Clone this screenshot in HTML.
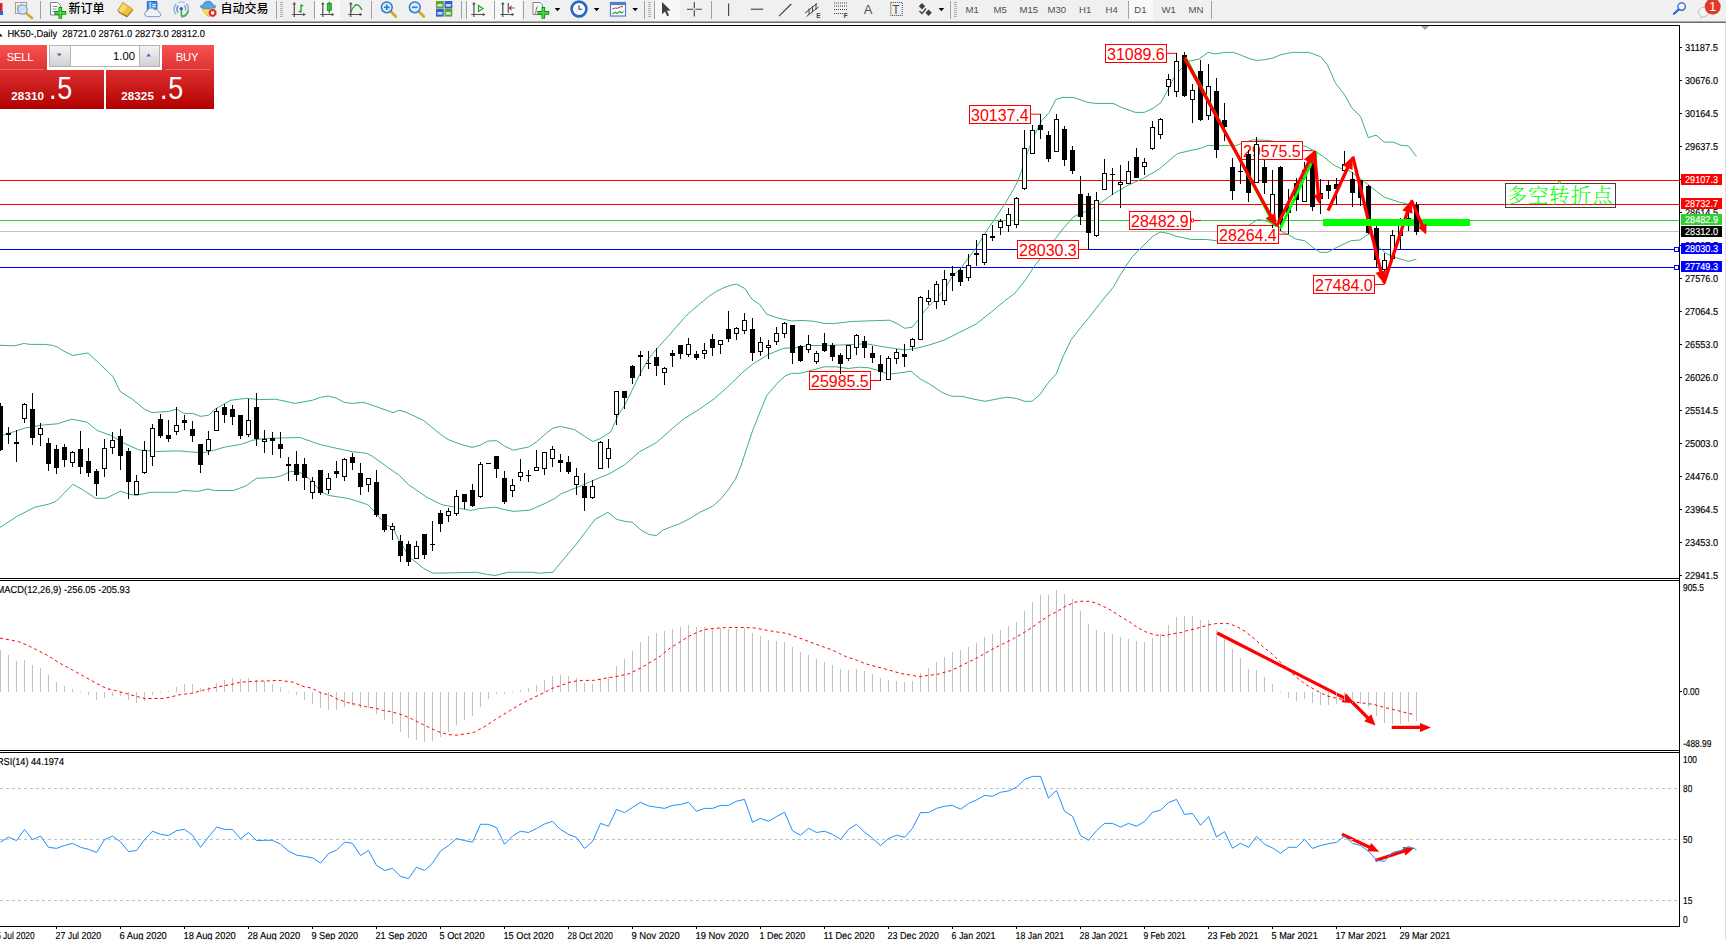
<!DOCTYPE html>
<html><head><meta charset="utf-8"><title>HK50 Daily</title>
<style>
html,body{margin:0;padding:0;background:#fff;}
body{width:1726px;height:940px;overflow:hidden;position:relative;font-family:"Liberation Sans","Noto Sans CJK SC",sans-serif;}
#tb{position:absolute;left:0;top:0;width:1726px;height:21px;background:#f0f0f0;}
#tbl1{position:absolute;left:0;top:21px;width:1726px;height:1px;background:#a8a8a8;}
#tbl2{position:absolute;left:0;top:22px;width:1726px;height:1px;background:#6e6e6e;}
#chart{position:absolute;left:0;top:0;}
.tbt{position:absolute;top:2px;font-size:12px;line-height:14px;color:#000;white-space:nowrap;font-weight:500;}
.tf{position:absolute;top:3.5px;font-size:9.6px;line-height:12px;color:#505050;white-space:nowrap;}
.sep{position:absolute;top:1px;width:1px;height:18px;background:#a0a0a0;}
.act{position:absolute;top:0;height:20px;background:#f8f8f8;}
#trade{position:absolute;left:0;top:45px;width:214px;height:64px;}
.btn{position:absolute;color:#fff;text-align:center;}
</style></head><body>
<svg id="chart" width="1726" height="940" viewBox="0 0 1726 940">
<g shape-rendering="crispEdges">
<rect x="0" y="25" width="1680" height="1" fill="#000"/>
<rect x="1679" y="25" width="1" height="902" fill="#000"/>
<rect x="0" y="578" width="1680" height="1" fill="#000"/>
<rect x="0" y="580" width="1680" height="1" fill="#000"/>
<rect x="0" y="750" width="1680" height="1" fill="#000"/>
<rect x="0" y="752" width="1680" height="1" fill="#000"/>
<rect x="0" y="926" width="1680" height="1" fill="#000"/>
<rect x="0" y="180" width="1679" height="1" fill="#ff0000"/>
<rect x="0" y="204" width="1679" height="1" fill="#ff0000"/>
<rect x="0" y="220" width="1679" height="1" fill="#32cd32"/>
<rect x="0" y="231" width="1679" height="1" fill="#c0c0c0"/>
<rect x="0" y="249" width="1679" height="1" fill="#0000ff"/>
<rect x="0" y="267" width="1679" height="1" fill="#0000ff"/>
</g>
<rect x="1725" y="23" width="1" height="917" fill="#dcdcdc"/>
<g stroke="#3cb371" stroke-width="1" stroke-linejoin="round">
<polyline points="0.0,345.3 14.7,345.8 24.3,343.4 29.4,344.4 44.7,344.4 52.3,345.3 57.4,347.0 63.8,351.1 72.8,355.5 79.1,354.3 88.1,353.0 99.6,363.8 113.0,376.6 120.0,391.3 132.8,399.6 144.3,409.1 151.9,412.6 168.5,411.4 176.8,409.1 183.8,413.4 192.8,413.4 200.4,416.4 208.7,415.2 215.1,409.1 231.0,400.2 246.3,398.3 259.1,399.6 275.7,399.2 294.8,403.4 312.7,400.2 320.3,397.4 328.0,396.0 335.7,397.9 344.6,402.4 352.3,403.4 363.7,402.4 377.8,407.2 393.1,412.7 399.5,410.2 407.1,412.7 423.7,420.6 440.0,433.9 448.0,439.5 460.1,444.1 472.0,447.4 480.0,445.3 487.7,441.1 496.6,440.6 504.3,446.0 513.2,450.2 528.5,447.0 536.2,442.1 546.4,433.2 552.8,428.1 560.4,426.4 574.5,429.6 584.7,436.4 593.0,441.5 600.0,438.7 610.5,432.2 618.5,414.7 624.3,406.0 631.9,390.6 639.6,374.7 648.5,358.7 660.0,345.1 668.9,335.5 676.6,326.6 685.5,316.4 693.2,309.4 700.9,303.0 708.5,296.6 716.2,291.5 723.8,287.7 731.5,285.1 736.6,284.1 744.9,288.6 751.9,299.1 759.6,304.3 766.6,314.1 778.7,318.3 791.5,320.9 802.1,320.5 812.8,321.1 824.3,323.4 835.7,323.4 851.1,321.5 876.6,320.6 889.4,320.2 897.0,323.4 904.7,328.3 912.3,327.2 917.4,320.9 922.6,313.4 928.9,306.2 936.6,298.5 944.3,289.6 951.9,277.0 960.9,268.1 976.2,247.7 986.4,231.1 994.0,220.2 1006.4,201.4 1016.2,184.5 1021.3,171.7 1028.9,148.7 1035.3,133.4 1041.7,120.6 1049.4,112.3 1055.7,99.6 1062.1,97.4 1073.6,97.4 1087.7,102.4 1095.3,103.4 1113.2,103.4 1120.9,107.2 1135.3,112.4 1144.3,112.4 1153.2,108.3 1160.9,102.6 1167.2,91.1 1173.6,78.3 1180.0,70.0 1188.9,61.1 1199.1,59.1 1208.1,52.4 1215.7,54.0 1224.7,52.4 1233.6,52.4 1240.0,54.7 1248.9,58.5 1256.6,60.4 1264.3,59.8 1273.2,57.9 1280.9,54.7 1292.3,52.4 1300.0,52.4 1308.9,52.4 1320.4,56.6 1327.4,64.9 1335.7,83.4 1344.7,94.9 1351.7,107.7 1360.6,116.6 1368.3,137.7 1376.0,135.1 1384.3,142.1 1393.2,142.1 1400.9,145.3 1408.5,146.0 1416.4,156.4" fill="none" />
<polyline points="1.6,435.7 25.5,427.9 42.1,425.1 57.4,423.8 71.5,419.2 86.8,422.1 97.0,430.4 111.1,435.5 122.6,442.6 139.1,450.0 150.6,450.9 155.7,451.5 178.7,450.9 201.7,452.8 208.0,451.9 224.6,447.2 241.2,444.3 252.7,440.2 264.2,438.5 284.6,437.9 299.9,437.5 310.1,441.1 320.3,444.6 335.7,448.1 352.3,451.7 366.3,453.2 372.7,456.4 386.7,466.6 399.5,475.5 408.4,484.5 426.4,497.0 441.7,504.7 449.4,506.2 463.4,509.1 471.1,510.4 480.0,508.5 495.3,507.2 504.3,509.5 513.2,511.4 529.8,510.2 545.1,503.4 554.0,498.9 560.4,494.2 569.4,490.4 584.7,484.3 600.0,477.5 608.9,474.0 624.3,465.1 639.6,451.7 656.2,442.8 672.8,428.1 684.3,418.5 699.6,409.1 714.9,398.3 727.7,386.8 744.3,370.9 753.2,363.8 768.5,354.3 783.8,348.3 799.6,347.4 807.7,345.5 824.3,345.5 838.3,345.1 851.1,344.5 866.4,343.8 876.6,345.7 889.4,347.7 904.7,350.0 914.9,348.6 928.9,345.1 944.3,340.0 959.6,332.3 976.2,324.0 991.5,311.9 1004.3,301.1 1014.5,293.6 1024.7,280.9 1034.9,265.5 1047.7,248.9 1055.3,238.7 1064.3,227.2 1073.2,217.0 1079.6,213.8 1089.8,210.0 1098.7,204.3 1112.3,194.4 1128.5,185.1 1143.8,178.1 1159.1,169.1 1168.1,161.5 1177.4,153.6 1192.8,150.0 1200.4,148.5 1208.1,145.3 1217.0,146.0 1226.0,145.3 1234.9,146.0 1241.3,143.6 1252.8,139.8 1268.1,140.4 1305.1,146.2 1315.3,151.3 1323.0,156.4 1333.2,164.7 1339.6,167.9 1349.8,171.1 1361.3,179.4 1368.9,185.1 1376.6,191.5 1384.4,197.2 1399.8,202.3 1411.3,204.9 1416.4,204.3" fill="none" />
<polyline points="0.0,527.4 16.6,516.6 34.5,507.3 48.5,504.2 56.2,501.3 72.8,484.3 81.7,489.1 95.7,498.3 106.0,498.3 120.6,491.1 128.9,494.3 136.6,495.3 150.6,492.3 177.4,492.3 182.6,490.4 197.9,491.4 208.0,489.0 214.4,490.5 233.5,490.5 246.3,485.7 256.5,478.3 274.4,477.4 282.0,475.5 291.0,471.3 299.9,472.3 310.1,479.4 320.3,490.9 328.0,495.3 348.4,498.5 360.0,502.1 367.7,504.7 374.0,511.1 381.7,520.0 387.4,525.4 393.2,528.3 398.3,539.1 406.0,551.3 411.1,558.3 423.8,568.5 432.8,573.2 453.2,572.8 476.2,572.3 487.7,574.5 495.3,575.5 508.1,572.3 532.3,572.3 538.7,573.2 552.8,572.3 564.3,558.3 575.7,544.9 595.1,519.4 607.9,512.3 616.8,519.4 624.5,521.3 632.1,522.2 641.1,530.2 648.7,534.4 656.4,535.6 662.8,530.2 671.7,526.6 679.4,523.8 689.6,518.7 699.8,512.3 712.6,506.3 721.5,498.3 729.1,488.7 735.5,479.1 740.6,467.0 747.7,445.3 752.8,430.0 766.6,395.7 778.7,381.7 785.1,376.0 791.5,373.4 800.2,373.3 812.8,370.0 824.3,366.8 835.7,366.8 848.5,368.5 858.7,367.2 868.9,367.8 876.6,370.0 884.3,372.9 891.9,373.8 902.1,372.6 911.1,371.1 920.0,378.9 928.8,383.6 942.8,392.8 951.7,396.3 961.9,396.3 973.4,399.1 984.9,401.3 996.4,399.1 1006.6,397.2 1016.8,398.5 1024.5,401.3 1032.1,401.3 1039.8,394.7 1047.4,383.8 1056.4,373.6 1062.8,357.0 1071.1,339.8 1080.6,327.7 1089.3,317.1 1100.4,302.8 1113.2,287.4 1119.6,276.0 1128.0,263.0 1132.3,256.8 1140.2,248.7 1153.0,236.0 1160.6,232.1 1168.3,233.4 1176.0,236.2 1191.3,239.5 1206.6,239.5 1216.8,240.8 1250.0,224.5 1257.7,219.6 1265.3,220.6 1271.7,223.2 1280.6,230.9 1288.3,234.7 1296.0,239.1 1304.9,240.8 1313.8,248.1 1320.2,252.3 1327.9,252.3 1334.5,248.5 1351.3,240.6 1360.2,240.0 1369.1,233.6 1378.1,246.7 1387.0,254.0 1398.5,258.5 1408.1,261.4 1416.4,259.1" fill="none" />
</g>
<rect x="809.5" y="371.5" width="61.0" height="18.0" fill="#fff" stroke="#ff0000" stroke-width="1" shape-rendering="crispEdges"/><text x="811.1" y="387.1" font-family="Liberation Sans, Arial, sans-serif" font-size="16" fill="#ff0000" textLength="57.6">25985.5</text><polyline points="870.6,380.5 880.5,380.5" fill="none" stroke="#ff0000" stroke-width="1"/>
<rect x="969.5" y="105.5" width="61.0" height="18.0" fill="#fff" stroke="#ff0000" stroke-width="1" shape-rendering="crispEdges"/><text x="971.1" y="121.1" font-family="Liberation Sans, Arial, sans-serif" font-size="16" fill="#ff0000" textLength="57.6">30137.4</text><polyline points="1030.6,114.2 1040.5,114.2" fill="none" stroke="#ff0000" stroke-width="1"/>
<rect x="1017.5" y="240.5" width="61.0" height="18.0" fill="#fff" stroke="#ff0000" stroke-width="1" shape-rendering="crispEdges"/><text x="1019.1" y="256.1" font-family="Liberation Sans, Arial, sans-serif" font-size="16" fill="#ff0000" textLength="57.6">28030.3</text><polyline points="1078.7,249.5 1088.5,249.5" fill="none" stroke="#ff0000" stroke-width="1"/>
<rect x="1105.5" y="44.5" width="61.0" height="18.0" fill="#fff" stroke="#ff0000" stroke-width="1" shape-rendering="crispEdges"/><text x="1107.1" y="60.1" font-family="Liberation Sans, Arial, sans-serif" font-size="16" fill="#ff0000" textLength="57.6">31089.6</text><polyline points="1166.6,53.3 1176.5,53.3" fill="none" stroke="#ff0000" stroke-width="1"/>
<rect x="1241.5" y="141.5" width="61.0" height="18.0" fill="#fff" stroke="#ff0000" stroke-width="1" shape-rendering="crispEdges"/><text x="1243.1" y="157.1" font-family="Liberation Sans, Arial, sans-serif" font-size="16" fill="#ff0000" textLength="57.6">29575.5</text><polyline points="1302.7,150.6 1312.5,150.6" fill="none" stroke="#ff0000" stroke-width="1"/>
<rect x="1129.5" y="211.5" width="61.0" height="18.0" fill="#fff" stroke="#ff0000" stroke-width="1" shape-rendering="crispEdges"/><text x="1131.1" y="227.1" font-family="Liberation Sans, Arial, sans-serif" font-size="16" fill="#ff0000" textLength="57.6">28482.9</text><polyline points="1193.5,220.5 1201,220.5" fill="none" stroke="#ff0000" stroke-width="1"/>
<rect x="1191.5" y="219" width="2" height="3" fill="#fff" stroke="#ff0000" stroke-width="0.8"/>
<rect x="1217.5" y="225.5" width="61.0" height="18.0" fill="#fff" stroke="#ff0000" stroke-width="1" shape-rendering="crispEdges"/><text x="1219.1" y="241.1" font-family="Liberation Sans, Arial, sans-serif" font-size="16" fill="#ff0000" textLength="57.6">28264.4</text><polyline points="1278.6,234.2 1288.5,234.2" fill="none" stroke="#ff0000" stroke-width="1"/>
<rect x="1313.5" y="275.5" width="61.0" height="18.0" fill="#fff" stroke="#ff0000" stroke-width="1" shape-rendering="crispEdges"/><text x="1315.1" y="291.1" font-family="Liberation Sans, Arial, sans-serif" font-size="16" fill="#ff0000" textLength="57.6">27484.0</text><polyline points="1374.6,284.5 1384.5,284.5" fill="none" stroke="#ff0000" stroke-width="1"/>
<g shape-rendering="crispEdges">
<rect x="0" y="403" width="1" height="48" fill="#000"/>
<rect x="-2" y="406" width="5" height="44" fill="#000"/>
<rect x="8" y="427" width="1" height="17" fill="#000"/>
<rect x="6" y="433" width="5" height="2" fill="#000"/>
<rect x="16" y="430" width="1" height="32" fill="#000"/>
<rect x="14" y="442" width="5" height="2" fill="#000"/>
<rect x="24" y="403" width="1" height="20" fill="#000"/>
<rect x="22" y="404" width="5" height="15" fill="#000"/>
<rect x="23" y="405" width="3" height="13" fill="#fff"/>
<rect x="32" y="393" width="1" height="52" fill="#000"/>
<rect x="30" y="409" width="5" height="29" fill="#000"/>
<rect x="40" y="423" width="1" height="23" fill="#000"/>
<rect x="38" y="428" width="5" height="7" fill="#000"/>
<rect x="39" y="429" width="3" height="5" fill="#fff"/>
<rect x="48" y="438" width="1" height="33" fill="#000"/>
<rect x="46" y="443" width="5" height="21" fill="#000"/>
<rect x="56" y="445" width="1" height="29" fill="#000"/>
<rect x="54" y="449" width="5" height="19" fill="#000"/>
<rect x="64" y="444" width="1" height="23" fill="#000"/>
<rect x="62" y="447" width="5" height="13" fill="#000"/>
<rect x="72" y="451" width="1" height="16" fill="#000"/>
<rect x="70" y="452" width="5" height="11" fill="#000"/>
<rect x="71" y="453" width="3" height="9" fill="#fff"/>
<rect x="80" y="431" width="1" height="43" fill="#000"/>
<rect x="78" y="449" width="5" height="18" fill="#000"/>
<rect x="88" y="448" width="1" height="29" fill="#000"/>
<rect x="86" y="461" width="5" height="12" fill="#000"/>
<rect x="96" y="469" width="1" height="27" fill="#000"/>
<rect x="94" y="471" width="5" height="13" fill="#000"/>
<rect x="104" y="439" width="1" height="38" fill="#000"/>
<rect x="102" y="448" width="5" height="21" fill="#000"/>
<rect x="103" y="449" width="3" height="19" fill="#fff"/>
<rect x="112" y="432" width="1" height="22" fill="#000"/>
<rect x="110" y="440" width="5" height="8" fill="#000"/>
<rect x="111" y="441" width="3" height="6" fill="#fff"/>
<rect x="120" y="429" width="1" height="41" fill="#000"/>
<rect x="118" y="436" width="5" height="20" fill="#000"/>
<rect x="128" y="448" width="1" height="51" fill="#000"/>
<rect x="126" y="451" width="5" height="31" fill="#000"/>
<rect x="136" y="475" width="1" height="20" fill="#000"/>
<rect x="134" y="481" width="5" height="14" fill="#000"/>
<rect x="135" y="482" width="3" height="12" fill="#fff"/>
<rect x="144" y="441" width="1" height="33" fill="#000"/>
<rect x="142" y="450" width="5" height="23" fill="#000"/>
<rect x="143" y="451" width="3" height="21" fill="#fff"/>
<rect x="152" y="424" width="1" height="42" fill="#000"/>
<rect x="150" y="428" width="5" height="29" fill="#000"/>
<rect x="151" y="429" width="3" height="27" fill="#fff"/>
<rect x="160" y="414" width="1" height="24" fill="#000"/>
<rect x="158" y="419" width="5" height="17" fill="#000"/>
<rect x="168" y="420" width="1" height="22" fill="#000"/>
<rect x="166" y="435" width="5" height="4" fill="#000"/>
<rect x="176" y="407" width="1" height="28" fill="#000"/>
<rect x="174" y="425" width="5" height="7" fill="#000"/>
<rect x="175" y="426" width="3" height="5" fill="#fff"/>
<rect x="184" y="415" width="1" height="15" fill="#000"/>
<rect x="182" y="420" width="5" height="3" fill="#000"/>
<rect x="192" y="421" width="1" height="21" fill="#000"/>
<rect x="190" y="429" width="5" height="7" fill="#000"/>
<rect x="200" y="444" width="1" height="29" fill="#000"/>
<rect x="198" y="444" width="5" height="21" fill="#000"/>
<rect x="208" y="431" width="1" height="24" fill="#000"/>
<rect x="206" y="439" width="5" height="12" fill="#000"/>
<rect x="207" y="440" width="3" height="10" fill="#fff"/>
<rect x="216" y="408" width="1" height="23" fill="#000"/>
<rect x="214" y="411" width="5" height="20" fill="#000"/>
<rect x="215" y="412" width="3" height="18" fill="#fff"/>
<rect x="224" y="404" width="1" height="19" fill="#000"/>
<rect x="222" y="407" width="5" height="8" fill="#000"/>
<rect x="232" y="405" width="1" height="20" fill="#000"/>
<rect x="230" y="409" width="5" height="8" fill="#000"/>
<rect x="240" y="415" width="1" height="24" fill="#000"/>
<rect x="238" y="415" width="5" height="21" fill="#000"/>
<rect x="248" y="399" width="1" height="38" fill="#000"/>
<rect x="246" y="420" width="5" height="15" fill="#000"/>
<rect x="247" y="421" width="3" height="13" fill="#fff"/>
<rect x="256" y="393" width="1" height="53" fill="#000"/>
<rect x="254" y="407" width="5" height="32" fill="#000"/>
<rect x="264" y="430" width="1" height="23" fill="#000"/>
<rect x="262" y="439" width="5" height="3" fill="#000"/>
<rect x="263" y="440" width="3" height="1" fill="#fff"/>
<rect x="272" y="432" width="1" height="23" fill="#000"/>
<rect x="270" y="438" width="5" height="3" fill="#000"/>
<rect x="280" y="432" width="1" height="26" fill="#000"/>
<rect x="278" y="444" width="5" height="5" fill="#000"/>
<rect x="288" y="457" width="1" height="24" fill="#000"/>
<rect x="286" y="464" width="5" height="2" fill="#000"/>
<rect x="296" y="451" width="1" height="30" fill="#000"/>
<rect x="294" y="464" width="5" height="11" fill="#000"/>
<rect x="304" y="458" width="1" height="32" fill="#000"/>
<rect x="302" y="464" width="5" height="14" fill="#000"/>
<rect x="312" y="477" width="1" height="22" fill="#000"/>
<rect x="310" y="481" width="5" height="12" fill="#000"/>
<rect x="311" y="482" width="3" height="10" fill="#fff"/>
<rect x="320" y="470" width="1" height="25" fill="#000"/>
<rect x="318" y="470" width="5" height="23" fill="#000"/>
<rect x="328" y="473" width="1" height="21" fill="#000"/>
<rect x="326" y="478" width="5" height="12" fill="#000"/>
<rect x="327" y="479" width="3" height="10" fill="#fff"/>
<rect x="336" y="461" width="1" height="17" fill="#000"/>
<rect x="334" y="471" width="5" height="3" fill="#000"/>
<rect x="344" y="458" width="1" height="23" fill="#000"/>
<rect x="342" y="459" width="5" height="18" fill="#000"/>
<rect x="343" y="460" width="3" height="16" fill="#fff"/>
<rect x="352" y="453" width="1" height="17" fill="#000"/>
<rect x="350" y="457" width="5" height="6" fill="#000"/>
<rect x="360" y="463" width="1" height="32" fill="#000"/>
<rect x="358" y="473" width="5" height="14" fill="#000"/>
<rect x="368" y="478" width="1" height="14" fill="#000"/>
<rect x="366" y="478" width="5" height="7" fill="#000"/>
<rect x="367" y="479" width="3" height="5" fill="#fff"/>
<rect x="376" y="470" width="1" height="47" fill="#000"/>
<rect x="374" y="482" width="5" height="33" fill="#000"/>
<rect x="384" y="514" width="1" height="18" fill="#000"/>
<rect x="382" y="514" width="5" height="16" fill="#000"/>
<rect x="392" y="523" width="1" height="17" fill="#000"/>
<rect x="390" y="526" width="5" height="4" fill="#000"/>
<rect x="391" y="527" width="3" height="2" fill="#fff"/>
<rect x="400" y="535" width="1" height="27" fill="#000"/>
<rect x="398" y="541" width="5" height="15" fill="#000"/>
<rect x="408" y="541" width="1" height="25" fill="#000"/>
<rect x="406" y="544" width="5" height="18" fill="#000"/>
<rect x="416" y="541" width="1" height="18" fill="#000"/>
<rect x="414" y="546" width="5" height="13" fill="#000"/>
<rect x="415" y="547" width="3" height="11" fill="#fff"/>
<rect x="424" y="534" width="1" height="25" fill="#000"/>
<rect x="422" y="534" width="5" height="21" fill="#000"/>
<rect x="432" y="521" width="1" height="30" fill="#000"/>
<rect x="430" y="544" width="5" height="1" fill="#000"/>
<rect x="440" y="510" width="1" height="22" fill="#000"/>
<rect x="438" y="513" width="5" height="11" fill="#000"/>
<rect x="448" y="508" width="1" height="14" fill="#000"/>
<rect x="446" y="511" width="5" height="5" fill="#000"/>
<rect x="447" y="512" width="3" height="3" fill="#fff"/>
<rect x="456" y="490" width="1" height="26" fill="#000"/>
<rect x="454" y="496" width="5" height="18" fill="#000"/>
<rect x="455" y="497" width="3" height="16" fill="#fff"/>
<rect x="464" y="494" width="1" height="15" fill="#000"/>
<rect x="462" y="494" width="5" height="8" fill="#000"/>
<rect x="472" y="484" width="1" height="23" fill="#000"/>
<rect x="470" y="490" width="5" height="16" fill="#000"/>
<rect x="480" y="462" width="1" height="36" fill="#000"/>
<rect x="478" y="464" width="5" height="33" fill="#000"/>
<rect x="479" y="465" width="3" height="31" fill="#fff"/>
<rect x="486" y="463" width="5" height="1" fill="#000"/>
<rect x="496" y="456" width="1" height="22" fill="#000"/>
<rect x="494" y="456" width="5" height="13" fill="#000"/>
<rect x="504" y="471" width="1" height="33" fill="#000"/>
<rect x="502" y="478" width="5" height="24" fill="#000"/>
<rect x="512" y="479" width="1" height="18" fill="#000"/>
<rect x="510" y="485" width="5" height="6" fill="#000"/>
<rect x="511" y="486" width="3" height="4" fill="#fff"/>
<rect x="520" y="459" width="1" height="22" fill="#000"/>
<rect x="518" y="472" width="5" height="5" fill="#000"/>
<rect x="519" y="473" width="3" height="3" fill="#fff"/>
<rect x="528" y="470" width="1" height="12" fill="#000"/>
<rect x="526" y="475" width="5" height="1" fill="#000"/>
<rect x="536" y="450" width="1" height="21" fill="#000"/>
<rect x="534" y="467" width="5" height="4" fill="#000"/>
<rect x="535" y="468" width="3" height="2" fill="#fff"/>
<rect x="544" y="452" width="1" height="23" fill="#000"/>
<rect x="542" y="452" width="5" height="17" fill="#000"/>
<rect x="543" y="453" width="3" height="15" fill="#fff"/>
<rect x="552" y="446" width="1" height="21" fill="#000"/>
<rect x="550" y="449" width="5" height="10" fill="#000"/>
<rect x="551" y="450" width="3" height="8" fill="#fff"/>
<rect x="560" y="454" width="1" height="18" fill="#000"/>
<rect x="558" y="460" width="5" height="3" fill="#000"/>
<rect x="568" y="456" width="1" height="18" fill="#000"/>
<rect x="566" y="462" width="5" height="10" fill="#000"/>
<rect x="576" y="468" width="1" height="27" fill="#000"/>
<rect x="574" y="476" width="5" height="9" fill="#000"/>
<rect x="575" y="477" width="3" height="7" fill="#fff"/>
<rect x="584" y="473" width="1" height="38" fill="#000"/>
<rect x="582" y="486" width="5" height="12" fill="#000"/>
<rect x="592" y="480" width="1" height="19" fill="#000"/>
<rect x="590" y="486" width="5" height="12" fill="#000"/>
<rect x="591" y="487" width="3" height="10" fill="#fff"/>
<rect x="600" y="441" width="1" height="28" fill="#000"/>
<rect x="598" y="442" width="5" height="27" fill="#000"/>
<rect x="599" y="443" width="3" height="25" fill="#fff"/>
<rect x="608" y="439" width="1" height="29" fill="#000"/>
<rect x="606" y="448" width="5" height="11" fill="#000"/>
<rect x="607" y="449" width="3" height="9" fill="#fff"/>
<rect x="616" y="391" width="1" height="34" fill="#000"/>
<rect x="614" y="391" width="5" height="24" fill="#000"/>
<rect x="615" y="392" width="3" height="22" fill="#fff"/>
<rect x="624" y="391" width="1" height="18" fill="#000"/>
<rect x="622" y="391" width="5" height="7" fill="#000"/>
<rect x="632" y="365" width="1" height="19" fill="#000"/>
<rect x="630" y="366" width="5" height="12" fill="#000"/>
<rect x="640" y="351" width="1" height="25" fill="#000"/>
<rect x="638" y="355" width="5" height="2" fill="#000"/>
<rect x="648" y="351" width="1" height="18" fill="#000"/>
<rect x="646" y="363" width="5" height="1" fill="#000"/>
<rect x="656" y="348" width="1" height="28" fill="#000"/>
<rect x="654" y="357" width="5" height="9" fill="#000"/>
<rect x="664" y="367" width="1" height="18" fill="#000"/>
<rect x="662" y="368" width="5" height="5" fill="#000"/>
<rect x="663" y="369" width="3" height="3" fill="#fff"/>
<rect x="672" y="350" width="1" height="17" fill="#000"/>
<rect x="670" y="353" width="5" height="3" fill="#000"/>
<rect x="680" y="345" width="1" height="14" fill="#000"/>
<rect x="678" y="345" width="5" height="9" fill="#000"/>
<rect x="688" y="338" width="1" height="19" fill="#000"/>
<rect x="686" y="344" width="5" height="11" fill="#000"/>
<rect x="687" y="345" width="3" height="9" fill="#fff"/>
<rect x="696" y="351" width="1" height="9" fill="#000"/>
<rect x="694" y="354" width="5" height="4" fill="#000"/>
<rect x="704" y="343" width="1" height="16" fill="#000"/>
<rect x="702" y="350" width="5" height="4" fill="#000"/>
<rect x="703" y="351" width="3" height="2" fill="#fff"/>
<rect x="712" y="334" width="1" height="22" fill="#000"/>
<rect x="710" y="339" width="5" height="9" fill="#000"/>
<rect x="720" y="340" width="1" height="14" fill="#000"/>
<rect x="718" y="340" width="5" height="5" fill="#000"/>
<rect x="719" y="341" width="3" height="3" fill="#fff"/>
<rect x="728" y="311" width="1" height="31" fill="#000"/>
<rect x="726" y="329" width="5" height="10" fill="#000"/>
<rect x="736" y="327" width="1" height="13" fill="#000"/>
<rect x="734" y="328" width="5" height="6" fill="#000"/>
<rect x="735" y="329" width="3" height="4" fill="#fff"/>
<rect x="744" y="313" width="1" height="21" fill="#000"/>
<rect x="742" y="320" width="5" height="11" fill="#000"/>
<rect x="743" y="321" width="3" height="9" fill="#fff"/>
<rect x="752" y="318" width="1" height="43" fill="#000"/>
<rect x="750" y="329" width="5" height="24" fill="#000"/>
<rect x="760" y="337" width="1" height="19" fill="#000"/>
<rect x="758" y="342" width="5" height="10" fill="#000"/>
<rect x="759" y="343" width="3" height="8" fill="#fff"/>
<rect x="768" y="340" width="1" height="19" fill="#000"/>
<rect x="766" y="345" width="5" height="3" fill="#000"/>
<rect x="767" y="346" width="3" height="1" fill="#fff"/>
<rect x="776" y="327" width="1" height="18" fill="#000"/>
<rect x="774" y="333" width="5" height="9" fill="#000"/>
<rect x="775" y="334" width="3" height="7" fill="#fff"/>
<rect x="784" y="322" width="1" height="16" fill="#000"/>
<rect x="782" y="323" width="5" height="11" fill="#000"/>
<rect x="783" y="324" width="3" height="9" fill="#fff"/>
<rect x="792" y="325" width="1" height="39" fill="#000"/>
<rect x="790" y="325" width="5" height="28" fill="#000"/>
<rect x="800" y="345" width="1" height="17" fill="#000"/>
<rect x="798" y="346" width="5" height="15" fill="#000"/>
<rect x="808" y="335" width="1" height="18" fill="#000"/>
<rect x="806" y="344" width="5" height="6" fill="#000"/>
<rect x="807" y="345" width="3" height="4" fill="#fff"/>
<rect x="816" y="351" width="1" height="13" fill="#000"/>
<rect x="814" y="353" width="5" height="9" fill="#000"/>
<rect x="815" y="354" width="3" height="7" fill="#fff"/>
<rect x="824" y="333" width="1" height="19" fill="#000"/>
<rect x="822" y="343" width="5" height="8" fill="#000"/>
<rect x="832" y="343" width="1" height="18" fill="#000"/>
<rect x="830" y="345" width="5" height="12" fill="#000"/>
<rect x="840" y="353" width="1" height="21" fill="#000"/>
<rect x="838" y="355" width="5" height="9" fill="#000"/>
<rect x="848" y="345" width="1" height="16" fill="#000"/>
<rect x="846" y="345" width="5" height="14" fill="#000"/>
<rect x="847" y="346" width="3" height="12" fill="#fff"/>
<rect x="856" y="334" width="1" height="21" fill="#000"/>
<rect x="854" y="335" width="5" height="13" fill="#000"/>
<rect x="855" y="336" width="3" height="11" fill="#fff"/>
<rect x="864" y="336" width="1" height="22" fill="#000"/>
<rect x="862" y="341" width="5" height="7" fill="#000"/>
<rect x="872" y="346" width="1" height="17" fill="#000"/>
<rect x="870" y="353" width="5" height="5" fill="#000"/>
<rect x="880" y="355" width="1" height="26" fill="#000"/>
<rect x="878" y="364" width="5" height="8" fill="#000"/>
<rect x="888" y="356" width="1" height="24" fill="#000"/>
<rect x="886" y="358" width="5" height="22" fill="#000"/>
<rect x="887" y="359" width="3" height="20" fill="#fff"/>
<rect x="896" y="349" width="1" height="15" fill="#000"/>
<rect x="894" y="352" width="5" height="7" fill="#000"/>
<rect x="895" y="353" width="3" height="5" fill="#fff"/>
<rect x="904" y="344" width="1" height="23" fill="#000"/>
<rect x="902" y="354" width="5" height="3" fill="#000"/>
<rect x="912" y="338" width="1" height="13" fill="#000"/>
<rect x="910" y="339" width="5" height="8" fill="#000"/>
<rect x="911" y="340" width="3" height="6" fill="#fff"/>
<rect x="920" y="296" width="1" height="44" fill="#000"/>
<rect x="918" y="297" width="5" height="43" fill="#000"/>
<rect x="919" y="298" width="3" height="41" fill="#fff"/>
<rect x="928" y="290" width="1" height="15" fill="#000"/>
<rect x="926" y="298" width="5" height="4" fill="#000"/>
<rect x="927" y="299" width="3" height="2" fill="#fff"/>
<rect x="936" y="281" width="1" height="28" fill="#000"/>
<rect x="934" y="284" width="5" height="18" fill="#000"/>
<rect x="935" y="285" width="3" height="16" fill="#fff"/>
<rect x="944" y="270" width="1" height="35" fill="#000"/>
<rect x="942" y="279" width="5" height="22" fill="#000"/>
<rect x="943" y="280" width="3" height="20" fill="#fff"/>
<rect x="952" y="266" width="1" height="25" fill="#000"/>
<rect x="950" y="273" width="5" height="3" fill="#000"/>
<rect x="960" y="268" width="1" height="18" fill="#000"/>
<rect x="958" y="270" width="5" height="12" fill="#000"/>
<rect x="968" y="254" width="1" height="27" fill="#000"/>
<rect x="966" y="265" width="5" height="13" fill="#000"/>
<rect x="967" y="266" width="3" height="11" fill="#fff"/>
<rect x="976" y="240" width="1" height="26" fill="#000"/>
<rect x="974" y="253" width="5" height="2" fill="#000"/>
<rect x="984" y="234" width="1" height="31" fill="#000"/>
<rect x="982" y="234" width="5" height="29" fill="#000"/>
<rect x="983" y="235" width="3" height="27" fill="#fff"/>
<rect x="992" y="225" width="1" height="16" fill="#000"/>
<rect x="990" y="236" width="5" height="2" fill="#000"/>
<rect x="1000" y="219" width="1" height="16" fill="#000"/>
<rect x="998" y="221" width="5" height="7" fill="#000"/>
<rect x="999" y="222" width="3" height="5" fill="#fff"/>
<rect x="1008" y="208" width="1" height="24" fill="#000"/>
<rect x="1006" y="214" width="5" height="12" fill="#000"/>
<rect x="1007" y="215" width="3" height="10" fill="#fff"/>
<rect x="1016" y="197" width="1" height="31" fill="#000"/>
<rect x="1014" y="198" width="5" height="27" fill="#000"/>
<rect x="1015" y="199" width="3" height="25" fill="#fff"/>
<rect x="1024" y="130" width="1" height="60" fill="#000"/>
<rect x="1022" y="148" width="5" height="41" fill="#000"/>
<rect x="1023" y="149" width="3" height="39" fill="#fff"/>
<rect x="1032" y="125" width="1" height="29" fill="#000"/>
<rect x="1030" y="130" width="5" height="24" fill="#000"/>
<rect x="1031" y="131" width="3" height="22" fill="#fff"/>
<rect x="1040" y="114" width="1" height="25" fill="#000"/>
<rect x="1038" y="125" width="5" height="5" fill="#000"/>
<rect x="1048" y="131" width="1" height="31" fill="#000"/>
<rect x="1046" y="135" width="5" height="24" fill="#000"/>
<rect x="1056" y="114" width="1" height="38" fill="#000"/>
<rect x="1054" y="119" width="5" height="33" fill="#000"/>
<rect x="1055" y="120" width="3" height="31" fill="#fff"/>
<rect x="1064" y="126" width="1" height="40" fill="#000"/>
<rect x="1062" y="129" width="5" height="31" fill="#000"/>
<rect x="1072" y="146" width="1" height="28" fill="#000"/>
<rect x="1070" y="150" width="5" height="21" fill="#000"/>
<rect x="1080" y="176" width="1" height="49" fill="#000"/>
<rect x="1078" y="194" width="5" height="23" fill="#000"/>
<rect x="1088" y="193" width="1" height="57" fill="#000"/>
<rect x="1086" y="196" width="5" height="37" fill="#000"/>
<rect x="1096" y="192" width="1" height="45" fill="#000"/>
<rect x="1094" y="200" width="5" height="36" fill="#000"/>
<rect x="1095" y="201" width="3" height="34" fill="#fff"/>
<rect x="1104" y="159" width="1" height="31" fill="#000"/>
<rect x="1102" y="173" width="5" height="17" fill="#000"/>
<rect x="1103" y="174" width="3" height="15" fill="#fff"/>
<rect x="1112" y="168" width="1" height="27" fill="#000"/>
<rect x="1110" y="174" width="5" height="1" fill="#000"/>
<rect x="1120" y="165" width="1" height="43" fill="#000"/>
<rect x="1118" y="182" width="5" height="3" fill="#000"/>
<rect x="1119" y="183" width="3" height="1" fill="#fff"/>
<rect x="1128" y="161" width="1" height="23" fill="#000"/>
<rect x="1126" y="171" width="5" height="13" fill="#000"/>
<rect x="1127" y="172" width="3" height="11" fill="#fff"/>
<rect x="1136" y="148" width="1" height="30" fill="#000"/>
<rect x="1134" y="157" width="5" height="21" fill="#000"/>
<rect x="1144" y="158" width="1" height="17" fill="#000"/>
<rect x="1142" y="162" width="5" height="5" fill="#000"/>
<rect x="1143" y="163" width="3" height="3" fill="#fff"/>
<rect x="1152" y="121" width="1" height="29" fill="#000"/>
<rect x="1150" y="127" width="5" height="22" fill="#000"/>
<rect x="1151" y="128" width="3" height="20" fill="#fff"/>
<rect x="1160" y="118" width="1" height="21" fill="#000"/>
<rect x="1158" y="119" width="5" height="16" fill="#000"/>
<rect x="1159" y="120" width="3" height="14" fill="#fff"/>
<rect x="1168" y="74" width="1" height="22" fill="#000"/>
<rect x="1166" y="79" width="5" height="8" fill="#000"/>
<rect x="1167" y="80" width="3" height="6" fill="#fff"/>
<rect x="1176" y="53" width="1" height="44" fill="#000"/>
<rect x="1174" y="61" width="5" height="31" fill="#000"/>
<rect x="1175" y="62" width="3" height="29" fill="#fff"/>
<rect x="1184" y="52" width="1" height="45" fill="#000"/>
<rect x="1182" y="55" width="5" height="41" fill="#000"/>
<rect x="1192" y="84" width="1" height="39" fill="#000"/>
<rect x="1190" y="90" width="5" height="10" fill="#000"/>
<rect x="1191" y="91" width="3" height="8" fill="#fff"/>
<rect x="1200" y="60" width="1" height="61" fill="#000"/>
<rect x="1198" y="71" width="5" height="49" fill="#000"/>
<rect x="1208" y="64" width="1" height="56" fill="#000"/>
<rect x="1206" y="86" width="5" height="30" fill="#000"/>
<rect x="1207" y="87" width="3" height="28" fill="#fff"/>
<rect x="1216" y="78" width="1" height="80" fill="#000"/>
<rect x="1214" y="91" width="5" height="59" fill="#000"/>
<rect x="1224" y="103" width="1" height="38" fill="#000"/>
<rect x="1222" y="120" width="5" height="7" fill="#000"/>
<rect x="1232" y="158" width="1" height="42" fill="#000"/>
<rect x="1230" y="167" width="5" height="24" fill="#000"/>
<rect x="1240" y="163" width="1" height="21" fill="#000"/>
<rect x="1238" y="171" width="5" height="1" fill="#000"/>
<rect x="1248" y="150" width="1" height="52" fill="#000"/>
<rect x="1246" y="154" width="5" height="39" fill="#000"/>
<rect x="1256" y="137" width="1" height="46" fill="#000"/>
<rect x="1254" y="144" width="5" height="39" fill="#000"/>
<rect x="1255" y="145" width="3" height="37" fill="#fff"/>
<rect x="1264" y="160" width="1" height="34" fill="#000"/>
<rect x="1262" y="167" width="5" height="16" fill="#000"/>
<rect x="1272" y="170" width="1" height="58" fill="#000"/>
<rect x="1270" y="194" width="5" height="28" fill="#000"/>
<rect x="1271" y="195" width="3" height="26" fill="#fff"/>
<rect x="1280" y="166" width="1" height="65" fill="#000"/>
<rect x="1278" y="167" width="5" height="56" fill="#000"/>
<rect x="1288" y="189" width="1" height="45" fill="#000"/>
<rect x="1286" y="207" width="5" height="6" fill="#000"/>
<rect x="1296" y="178" width="1" height="33" fill="#000"/>
<rect x="1294" y="183" width="5" height="17" fill="#000"/>
<rect x="1304" y="162" width="1" height="40" fill="#000"/>
<rect x="1302" y="170" width="5" height="32" fill="#000"/>
<rect x="1303" y="171" width="3" height="30" fill="#fff"/>
<rect x="1312" y="153" width="1" height="58" fill="#000"/>
<rect x="1310" y="157" width="5" height="50" fill="#000"/>
<rect x="1320" y="179" width="1" height="35" fill="#000"/>
<rect x="1318" y="193" width="5" height="6" fill="#000"/>
<rect x="1328" y="180" width="1" height="19" fill="#000"/>
<rect x="1326" y="185" width="5" height="6" fill="#000"/>
<rect x="1336" y="178" width="1" height="27" fill="#000"/>
<rect x="1334" y="184" width="5" height="5" fill="#000"/>
<rect x="1344" y="151" width="1" height="20" fill="#000"/>
<rect x="1342" y="164" width="5" height="7" fill="#000"/>
<rect x="1343" y="165" width="3" height="5" fill="#fff"/>
<rect x="1352" y="172" width="1" height="35" fill="#000"/>
<rect x="1350" y="179" width="5" height="14" fill="#000"/>
<rect x="1360" y="180" width="1" height="26" fill="#000"/>
<rect x="1358" y="180" width="5" height="18" fill="#000"/>
<rect x="1368" y="185" width="1" height="49" fill="#000"/>
<rect x="1366" y="186" width="5" height="47" fill="#000"/>
<rect x="1376" y="226" width="1" height="42" fill="#000"/>
<rect x="1374" y="228" width="5" height="32" fill="#000"/>
<rect x="1384" y="253" width="1" height="31" fill="#000"/>
<rect x="1382" y="260" width="5" height="10" fill="#000"/>
<rect x="1383" y="261" width="3" height="8" fill="#fff"/>
<rect x="1392" y="230" width="1" height="29" fill="#000"/>
<rect x="1390" y="235" width="5" height="24" fill="#000"/>
<rect x="1391" y="236" width="3" height="22" fill="#fff"/>
<rect x="1400" y="218" width="1" height="32" fill="#000"/>
<rect x="1398" y="222" width="5" height="14" fill="#000"/>
<rect x="1399" y="223" width="3" height="12" fill="#fff"/>
<rect x="1408" y="208" width="1" height="23" fill="#000"/>
<rect x="1406" y="218" width="5" height="1" fill="#000"/>
<rect x="1416" y="202" width="1" height="33" fill="#000"/>
<rect x="1414" y="205" width="5" height="27" fill="#000"/>
</g>
<line x1="1185.4" y1="57.3" x2="1272.5" y2="221.0" stroke="#00ff00" stroke-width="2.8" stroke-linecap="butt"/><polygon points="1276.0,227.6 1265.4,219.1 1274.9,214.0" fill="#00ff00"/>
<line x1="1280.2" y1="228.6" x2="1314.2" y2="157.2" stroke="#00ff00" stroke-width="2.8" stroke-linecap="butt"/><polygon points="1317.4,150.4 1316.9,164.0 1307.2,159.4" fill="#00ff00"/>
<line x1="1184.5" y1="57.9" x2="1273.0" y2="219.9" stroke="#ff0000" stroke-width="3.3" stroke-linecap="butt"/><polygon points="1276.6,226.5 1265.9,218.1 1275.3,212.9" fill="#ff0000"/>
<line x1="1276.6" y1="226.5" x2="1311.0" y2="157.5" stroke="#ff0000" stroke-width="3.3" stroke-linecap="butt"/><polygon points="1314.3,150.8 1313.6,164.4 1303.9,159.6" fill="#ff0000"/>
<line x1="1314.3" y1="150.8" x2="1318.7" y2="198.3" stroke="#ff0000" stroke-width="3.3" stroke-linecap="butt"/><polygon points="1319.3,204.3 1313.6,194.8 1323.1,193.9" fill="#ff0000"/>
<line x1="1328.1" y1="210.6" x2="1349.7" y2="163.3" stroke="#ff0000" stroke-width="3.3" stroke-linecap="butt"/><polygon points="1352.8,156.5 1352.5,170.1 1342.7,165.6" fill="#ff0000"/>
<line x1="1352.8" y1="156.5" x2="1382.0" y2="276.3" stroke="#ff0000" stroke-width="3.3" stroke-linecap="butt"/><polygon points="1383.8,283.6 1375.6,272.7 1386.1,270.2" fill="#ff0000"/>
<line x1="1383.8" y1="283.6" x2="1409.0" y2="207.3" stroke="#ff0000" stroke-width="3.3" stroke-linecap="butt"/><polygon points="1411.3,200.2 1412.5,213.8 1402.3,210.4" fill="#ff0000"/>
<rect x="1323" y="219" width="147" height="7" fill="#00ff00"/>
<g shape-rendering="crispEdges"><rect x="1416" y="202" width="1" height="33" fill="#000"/><rect x="1414" y="205" width="5" height="27" fill="#000"/></g>
<line x1="1411.3" y1="200.2" x2="1423.8" y2="229.0" stroke="#ff0000" stroke-width="3.3" stroke-linecap="butt"/><polygon points="1426.2,234.5 1417.8,227.2 1426.6,223.4" fill="#ff0000"/>
<line x1="1217.2" y1="633.0" x2="1348.1" y2="699.9" stroke="#ff0000" stroke-width="3.3" stroke-linecap="butt"/><polygon points="1354.5,703.2 1341.5,702.2 1346.1,693.3" fill="#ff0000"/>
<line x1="1352.0" y1="702.0" x2="1370.8" y2="720.8" stroke="#ff0000" stroke-width="3.3" stroke-linecap="butt"/><polygon points="1375.5,725.5 1364.2,721.3 1371.3,714.2" fill="#ff0000"/>
<line x1="1391.7" y1="727.4" x2="1424.4" y2="727.4" stroke="#ff0000" stroke-width="3.3" stroke-linecap="butt"/><polygon points="1431.0,727.4 1420.0,731.9 1420.0,722.9" fill="#ff0000"/>
<line x1="1342.0" y1="834.3" x2="1373.2" y2="849.0" stroke="#ff0000" stroke-width="3.3" stroke-linecap="butt"/><polygon points="1379.2,851.8 1367.3,851.2 1371.2,843.0" fill="#ff0000"/>
<line x1="1375.4" y1="860.5" x2="1408.2" y2="849.8" stroke="#ff0000" stroke-width="3.3" stroke-linecap="butt"/><polygon points="1414.5,847.8 1405.4,855.5 1402.6,846.9" fill="#ff0000"/>
<rect x="1505.5" y="183.5" width="110" height="24" fill="none" stroke="#404040" stroke-width="1" shape-rendering="crispEdges"/>
<rect x="1558.5" y="181.5" width="2" height="2" fill="none" stroke="#00e000" stroke-width="0.7"/>
<text x="1506.6" y="202.5" font-family="Liberation Serif, Noto Serif CJK SC, serif" font-weight="300" font-size="20.5" fill="#00ff00" textLength="106" lengthAdjust="spacing">多空转折点</text>
<g shape-rendering="crispEdges">
<rect x="1680" y="47" width="2" height="1" fill="#000"/>
<rect x="1680" y="80" width="2" height="1" fill="#000"/>
<rect x="1680" y="113" width="2" height="1" fill="#000"/>
<rect x="1680" y="146" width="2" height="1" fill="#000"/>
<rect x="1680" y="179" width="2" height="1" fill="#000"/>
<rect x="1680" y="212" width="2" height="1" fill="#000"/>
<rect x="1680" y="245" width="2" height="1" fill="#000"/>
<rect x="1680" y="278" width="2" height="1" fill="#000"/>
<rect x="1680" y="311" width="2" height="1" fill="#000"/>
<rect x="1680" y="344" width="2" height="1" fill="#000"/>
<rect x="1680" y="377" width="2" height="1" fill="#000"/>
<rect x="1680" y="410" width="2" height="1" fill="#000"/>
<rect x="1680" y="443" width="2" height="1" fill="#000"/>
<rect x="1680" y="476" width="2" height="1" fill="#000"/>
<rect x="1680" y="509" width="2" height="1" fill="#000"/>
<rect x="1680" y="542" width="2" height="1" fill="#000"/>
<rect x="1680" y="575" width="2" height="1" fill="#000"/>
</g>
<text x="1685" y="51.1" font-family="Liberation Sans, Arial, sans-serif" font-size="10.1" style="text-rendering:geometricPrecision" stroke="#000" stroke-width="0.15" lengthAdjust="spacingAndGlyphs" fill="#000" textLength="33">31187.5</text>
<text x="1685" y="84.0" font-family="Liberation Sans, Arial, sans-serif" font-size="10.1" style="text-rendering:geometricPrecision" stroke="#000" stroke-width="0.15" lengthAdjust="spacingAndGlyphs" fill="#000" textLength="33">30676.0</text>
<text x="1685" y="117.0" font-family="Liberation Sans, Arial, sans-serif" font-size="10.1" style="text-rendering:geometricPrecision" stroke="#000" stroke-width="0.15" lengthAdjust="spacingAndGlyphs" fill="#000" textLength="33">30164.5</text>
<text x="1685" y="150.0" font-family="Liberation Sans, Arial, sans-serif" font-size="10.1" style="text-rendering:geometricPrecision" stroke="#000" stroke-width="0.15" lengthAdjust="spacingAndGlyphs" fill="#000" textLength="33">29637.5</text>
<text x="1685" y="183.0" font-family="Liberation Sans, Arial, sans-serif" font-size="10.1" style="text-rendering:geometricPrecision" stroke="#000" stroke-width="0.15" lengthAdjust="spacingAndGlyphs" fill="#000" textLength="33">29126.0</text>
<text x="1685" y="215.9" font-family="Liberation Sans, Arial, sans-serif" font-size="10.1" style="text-rendering:geometricPrecision" stroke="#000" stroke-width="0.15" lengthAdjust="spacingAndGlyphs" fill="#000" textLength="33">28614.5</text>
<text x="1685" y="248.9" font-family="Liberation Sans, Arial, sans-serif" font-size="10.1" style="text-rendering:geometricPrecision" stroke="#000" stroke-width="0.15" lengthAdjust="spacingAndGlyphs" fill="#000" textLength="33">28087.5</text>
<text x="1685" y="281.9" font-family="Liberation Sans, Arial, sans-serif" font-size="10.1" style="text-rendering:geometricPrecision" stroke="#000" stroke-width="0.15" lengthAdjust="spacingAndGlyphs" fill="#000" textLength="33">27576.0</text>
<text x="1685" y="314.9" font-family="Liberation Sans, Arial, sans-serif" font-size="10.1" style="text-rendering:geometricPrecision" stroke="#000" stroke-width="0.15" lengthAdjust="spacingAndGlyphs" fill="#000" textLength="33">27064.5</text>
<text x="1685" y="347.8" font-family="Liberation Sans, Arial, sans-serif" font-size="10.1" style="text-rendering:geometricPrecision" stroke="#000" stroke-width="0.15" lengthAdjust="spacingAndGlyphs" fill="#000" textLength="33">26553.0</text>
<text x="1685" y="380.8" font-family="Liberation Sans, Arial, sans-serif" font-size="10.1" style="text-rendering:geometricPrecision" stroke="#000" stroke-width="0.15" lengthAdjust="spacingAndGlyphs" fill="#000" textLength="33">26026.0</text>
<text x="1685" y="413.8" font-family="Liberation Sans, Arial, sans-serif" font-size="10.1" style="text-rendering:geometricPrecision" stroke="#000" stroke-width="0.15" lengthAdjust="spacingAndGlyphs" fill="#000" textLength="33">25514.5</text>
<text x="1685" y="446.8" font-family="Liberation Sans, Arial, sans-serif" font-size="10.1" style="text-rendering:geometricPrecision" stroke="#000" stroke-width="0.15" lengthAdjust="spacingAndGlyphs" fill="#000" textLength="33">25003.0</text>
<text x="1685" y="479.7" font-family="Liberation Sans, Arial, sans-serif" font-size="10.1" style="text-rendering:geometricPrecision" stroke="#000" stroke-width="0.15" lengthAdjust="spacingAndGlyphs" fill="#000" textLength="33">24476.0</text>
<text x="1685" y="512.7" font-family="Liberation Sans, Arial, sans-serif" font-size="10.1" style="text-rendering:geometricPrecision" stroke="#000" stroke-width="0.15" lengthAdjust="spacingAndGlyphs" fill="#000" textLength="33">23964.5</text>
<text x="1685" y="545.7" font-family="Liberation Sans, Arial, sans-serif" font-size="10.1" style="text-rendering:geometricPrecision" stroke="#000" stroke-width="0.15" lengthAdjust="spacingAndGlyphs" fill="#000" textLength="33">23453.0</text>
<text x="1685" y="578.7" font-family="Liberation Sans, Arial, sans-serif" font-size="10.1" style="text-rendering:geometricPrecision" stroke="#000" stroke-width="0.15" lengthAdjust="spacingAndGlyphs" fill="#000" textLength="33">22941.5</text>
<rect x="1681" y="174" width="41" height="11" fill="#ff0000"/><text x="1685" y="183.2" font-family="Liberation Sans, Arial, sans-serif" font-size="10.1" style="text-rendering:geometricPrecision" stroke="#fff" stroke-width="0.15" lengthAdjust="spacingAndGlyphs" fill="#fff" textLength="33">29107.3</text>
<rect x="1681" y="198" width="41" height="11" fill="#ff0000"/><text x="1685" y="207.2" font-family="Liberation Sans, Arial, sans-serif" font-size="10.1" style="text-rendering:geometricPrecision" stroke="#fff" stroke-width="0.15" lengthAdjust="spacingAndGlyphs" fill="#fff" textLength="33">28732.7</text>
<rect x="1681" y="214" width="41" height="11" fill="#32cd32"/><text x="1685" y="223.2" font-family="Liberation Sans, Arial, sans-serif" font-size="10.1" style="text-rendering:geometricPrecision" stroke="#fff" stroke-width="0.15" lengthAdjust="spacingAndGlyphs" fill="#fff" textLength="33">28482.9</text>
<rect x="1681" y="226" width="41" height="11" fill="#000000"/><text x="1685" y="235.4" font-family="Liberation Sans, Arial, sans-serif" font-size="10.1" style="text-rendering:geometricPrecision" stroke="#fff" stroke-width="0.15" lengthAdjust="spacingAndGlyphs" fill="#fff" textLength="33">28312.0</text>
<rect x="1681" y="243" width="41" height="11" fill="#0000ff"/><text x="1685" y="252.3" font-family="Liberation Sans, Arial, sans-serif" font-size="10.1" style="text-rendering:geometricPrecision" stroke="#fff" stroke-width="0.15" lengthAdjust="spacingAndGlyphs" fill="#fff" textLength="33">28030.3</text>
<rect x="1681" y="261" width="41" height="11" fill="#0000ff"/><text x="1685" y="270.1" font-family="Liberation Sans, Arial, sans-serif" font-size="10.1" style="text-rendering:geometricPrecision" stroke="#fff" stroke-width="0.15" lengthAdjust="spacingAndGlyphs" fill="#fff" textLength="33">27749.3</text>
<rect x="1674.5" y="247.5" width="4" height="4" fill="#fff" stroke="#0000ff" stroke-width="1"/>
<rect x="1674.5" y="265.5" width="4" height="4" fill="#fff" stroke="#0000ff" stroke-width="1"/>
<polygon points="1421,26 1429,26 1425,30" fill="#a0a0a0"/>
<g shape-rendering="crispEdges">
<rect x="0" y="650" width="1" height="42" fill="#c0c0c0"/>
<rect x="8" y="655" width="1" height="37" fill="#c0c0c0"/>
<rect x="16" y="661" width="1" height="31" fill="#c0c0c0"/>
<rect x="24" y="660" width="1" height="32" fill="#c0c0c0"/>
<rect x="32" y="665" width="1" height="27" fill="#c0c0c0"/>
<rect x="40" y="668" width="1" height="24" fill="#c0c0c0"/>
<rect x="48" y="675" width="1" height="17" fill="#c0c0c0"/>
<rect x="56" y="682" width="1" height="10" fill="#c0c0c0"/>
<rect x="64" y="686" width="1" height="6" fill="#c0c0c0"/>
<rect x="72" y="689" width="1" height="3" fill="#c0c0c0"/>
<rect x="80" y="691" width="1" height="1" fill="#c0c0c0"/>
<rect x="88" y="692" width="1" height="3" fill="#c0c0c0"/>
<rect x="96" y="692" width="1" height="8" fill="#c0c0c0"/>
<rect x="104" y="692" width="1" height="6" fill="#c0c0c0"/>
<rect x="112" y="692" width="1" height="4" fill="#c0c0c0"/>
<rect x="120" y="692" width="1" height="4" fill="#c0c0c0"/>
<rect x="128" y="692" width="1" height="8" fill="#c0c0c0"/>
<rect x="136" y="692" width="1" height="11" fill="#c0c0c0"/>
<rect x="144" y="692" width="1" height="9" fill="#c0c0c0"/>
<rect x="152" y="692" width="1" height="3" fill="#c0c0c0"/>
<rect x="160" y="692" width="1" height="1" fill="#c0c0c0"/>
<rect x="168" y="691" width="1" height="1" fill="#c0c0c0"/>
<rect x="176" y="687" width="1" height="5" fill="#c0c0c0"/>
<rect x="184" y="684" width="1" height="8" fill="#c0c0c0"/>
<rect x="192" y="684" width="1" height="8" fill="#c0c0c0"/>
<rect x="200" y="688" width="1" height="4" fill="#c0c0c0"/>
<rect x="208" y="687" width="1" height="5" fill="#c0c0c0"/>
<rect x="216" y="683" width="1" height="9" fill="#c0c0c0"/>
<rect x="224" y="680" width="1" height="12" fill="#c0c0c0"/>
<rect x="232" y="678" width="1" height="14" fill="#c0c0c0"/>
<rect x="240" y="679" width="1" height="13" fill="#c0c0c0"/>
<rect x="248" y="678" width="1" height="14" fill="#c0c0c0"/>
<rect x="256" y="680" width="1" height="12" fill="#c0c0c0"/>
<rect x="264" y="681" width="1" height="11" fill="#c0c0c0"/>
<rect x="272" y="684" width="1" height="8" fill="#c0c0c0"/>
<rect x="280" y="687" width="1" height="5" fill="#c0c0c0"/>
<rect x="288" y="691" width="1" height="1" fill="#c0c0c0"/>
<rect x="296" y="692" width="1" height="3" fill="#c0c0c0"/>
<rect x="304" y="692" width="1" height="8" fill="#c0c0c0"/>
<rect x="312" y="692" width="1" height="12" fill="#c0c0c0"/>
<rect x="320" y="692" width="1" height="16" fill="#c0c0c0"/>
<rect x="328" y="692" width="1" height="18" fill="#c0c0c0"/>
<rect x="336" y="692" width="1" height="18" fill="#c0c0c0"/>
<rect x="344" y="692" width="1" height="15" fill="#c0c0c0"/>
<rect x="352" y="692" width="1" height="14" fill="#c0c0c0"/>
<rect x="360" y="692" width="1" height="16" fill="#c0c0c0"/>
<rect x="368" y="692" width="1" height="16" fill="#c0c0c0"/>
<rect x="376" y="692" width="1" height="22" fill="#c0c0c0"/>
<rect x="384" y="692" width="1" height="28" fill="#c0c0c0"/>
<rect x="392" y="692" width="1" height="32" fill="#c0c0c0"/>
<rect x="400" y="692" width="1" height="40" fill="#c0c0c0"/>
<rect x="408" y="692" width="1" height="46" fill="#c0c0c0"/>
<rect x="416" y="692" width="1" height="48" fill="#c0c0c0"/>
<rect x="424" y="692" width="1" height="50" fill="#c0c0c0"/>
<rect x="432" y="692" width="1" height="49" fill="#c0c0c0"/>
<rect x="440" y="692" width="1" height="45" fill="#c0c0c0"/>
<rect x="448" y="692" width="1" height="40" fill="#c0c0c0"/>
<rect x="456" y="692" width="1" height="33" fill="#c0c0c0"/>
<rect x="464" y="692" width="1" height="28" fill="#c0c0c0"/>
<rect x="472" y="692" width="1" height="24" fill="#c0c0c0"/>
<rect x="480" y="692" width="1" height="15" fill="#c0c0c0"/>
<rect x="488" y="692" width="1" height="7" fill="#c0c0c0"/>
<rect x="496" y="692" width="1" height="2" fill="#c0c0c0"/>
<rect x="504" y="692" width="1" height="2" fill="#c0c0c0"/>
<rect x="512" y="692" width="1" height="1" fill="#c0c0c0"/>
<rect x="520" y="690" width="1" height="2" fill="#c0c0c0"/>
<rect x="528" y="688" width="1" height="4" fill="#c0c0c0"/>
<rect x="536" y="685" width="1" height="7" fill="#c0c0c0"/>
<rect x="544" y="680" width="1" height="12" fill="#c0c0c0"/>
<rect x="552" y="676" width="1" height="16" fill="#c0c0c0"/>
<rect x="560" y="675" width="1" height="17" fill="#c0c0c0"/>
<rect x="568" y="676" width="1" height="16" fill="#c0c0c0"/>
<rect x="576" y="678" width="1" height="14" fill="#c0c0c0"/>
<rect x="584" y="683" width="1" height="9" fill="#c0c0c0"/>
<rect x="592" y="684" width="1" height="8" fill="#c0c0c0"/>
<rect x="600" y="679" width="1" height="13" fill="#c0c0c0"/>
<rect x="608" y="677" width="1" height="15" fill="#c0c0c0"/>
<rect x="616" y="666" width="1" height="26" fill="#c0c0c0"/>
<rect x="624" y="659" width="1" height="33" fill="#c0c0c0"/>
<rect x="632" y="651" width="1" height="41" fill="#c0c0c0"/>
<rect x="640" y="642" width="1" height="50" fill="#c0c0c0"/>
<rect x="648" y="636" width="1" height="56" fill="#c0c0c0"/>
<rect x="656" y="633" width="1" height="59" fill="#c0c0c0"/>
<rect x="664" y="631" width="1" height="61" fill="#c0c0c0"/>
<rect x="672" y="629" width="1" height="63" fill="#c0c0c0"/>
<rect x="680" y="627" width="1" height="65" fill="#c0c0c0"/>
<rect x="688" y="625" width="1" height="67" fill="#c0c0c0"/>
<rect x="696" y="627" width="1" height="65" fill="#c0c0c0"/>
<rect x="704" y="627" width="1" height="65" fill="#c0c0c0"/>
<rect x="712" y="629" width="1" height="63" fill="#c0c0c0"/>
<rect x="720" y="628" width="1" height="64" fill="#c0c0c0"/>
<rect x="728" y="629" width="1" height="63" fill="#c0c0c0"/>
<rect x="736" y="629" width="1" height="63" fill="#c0c0c0"/>
<rect x="744" y="628" width="1" height="64" fill="#c0c0c0"/>
<rect x="752" y="633" width="1" height="59" fill="#c0c0c0"/>
<rect x="760" y="636" width="1" height="56" fill="#c0c0c0"/>
<rect x="768" y="640" width="1" height="52" fill="#c0c0c0"/>
<rect x="776" y="641" width="1" height="51" fill="#c0c0c0"/>
<rect x="784" y="642" width="1" height="50" fill="#c0c0c0"/>
<rect x="792" y="647" width="1" height="45" fill="#c0c0c0"/>
<rect x="800" y="652" width="1" height="40" fill="#c0c0c0"/>
<rect x="808" y="655" width="1" height="37" fill="#c0c0c0"/>
<rect x="816" y="659" width="1" height="33" fill="#c0c0c0"/>
<rect x="824" y="662" width="1" height="30" fill="#c0c0c0"/>
<rect x="832" y="665" width="1" height="27" fill="#c0c0c0"/>
<rect x="840" y="669" width="1" height="23" fill="#c0c0c0"/>
<rect x="848" y="670" width="1" height="22" fill="#c0c0c0"/>
<rect x="856" y="669" width="1" height="23" fill="#c0c0c0"/>
<rect x="864" y="671" width="1" height="21" fill="#c0c0c0"/>
<rect x="872" y="674" width="1" height="18" fill="#c0c0c0"/>
<rect x="880" y="678" width="1" height="14" fill="#c0c0c0"/>
<rect x="888" y="680" width="1" height="12" fill="#c0c0c0"/>
<rect x="896" y="681" width="1" height="11" fill="#c0c0c0"/>
<rect x="904" y="682" width="1" height="10" fill="#c0c0c0"/>
<rect x="912" y="681" width="1" height="11" fill="#c0c0c0"/>
<rect x="920" y="673" width="1" height="19" fill="#c0c0c0"/>
<rect x="928" y="668" width="1" height="24" fill="#c0c0c0"/>
<rect x="936" y="662" width="1" height="30" fill="#c0c0c0"/>
<rect x="944" y="657" width="1" height="35" fill="#c0c0c0"/>
<rect x="952" y="652" width="1" height="40" fill="#c0c0c0"/>
<rect x="960" y="650" width="1" height="42" fill="#c0c0c0"/>
<rect x="968" y="647" width="1" height="45" fill="#c0c0c0"/>
<rect x="976" y="643" width="1" height="49" fill="#c0c0c0"/>
<rect x="984" y="637" width="1" height="55" fill="#c0c0c0"/>
<rect x="992" y="634" width="1" height="58" fill="#c0c0c0"/>
<rect x="1000" y="630" width="1" height="62" fill="#c0c0c0"/>
<rect x="1008" y="626" width="1" height="66" fill="#c0c0c0"/>
<rect x="1016" y="622" width="1" height="70" fill="#c0c0c0"/>
<rect x="1024" y="611" width="1" height="81" fill="#c0c0c0"/>
<rect x="1032" y="602" width="1" height="90" fill="#c0c0c0"/>
<rect x="1040" y="595" width="1" height="97" fill="#c0c0c0"/>
<rect x="1048" y="595" width="1" height="97" fill="#c0c0c0"/>
<rect x="1056" y="590" width="1" height="102" fill="#c0c0c0"/>
<rect x="1064" y="594" width="1" height="98" fill="#c0c0c0"/>
<rect x="1072" y="599" width="1" height="93" fill="#c0c0c0"/>
<rect x="1080" y="611" width="1" height="81" fill="#c0c0c0"/>
<rect x="1088" y="624" width="1" height="68" fill="#c0c0c0"/>
<rect x="1096" y="630" width="1" height="62" fill="#c0c0c0"/>
<rect x="1104" y="632" width="1" height="60" fill="#c0c0c0"/>
<rect x="1112" y="634" width="1" height="58" fill="#c0c0c0"/>
<rect x="1120" y="637" width="1" height="55" fill="#c0c0c0"/>
<rect x="1128" y="639" width="1" height="53" fill="#c0c0c0"/>
<rect x="1136" y="641" width="1" height="51" fill="#c0c0c0"/>
<rect x="1144" y="642" width="1" height="50" fill="#c0c0c0"/>
<rect x="1152" y="638" width="1" height="54" fill="#c0c0c0"/>
<rect x="1160" y="634" width="1" height="58" fill="#c0c0c0"/>
<rect x="1168" y="625" width="1" height="67" fill="#c0c0c0"/>
<rect x="1176" y="617" width="1" height="75" fill="#c0c0c0"/>
<rect x="1184" y="616" width="1" height="76" fill="#c0c0c0"/>
<rect x="1192" y="616" width="1" height="76" fill="#c0c0c0"/>
<rect x="1200" y="620" width="1" height="72" fill="#c0c0c0"/>
<rect x="1208" y="620" width="1" height="72" fill="#c0c0c0"/>
<rect x="1216" y="630" width="1" height="62" fill="#c0c0c0"/>
<rect x="1224" y="639" width="1" height="53" fill="#c0c0c0"/>
<rect x="1232" y="649" width="1" height="43" fill="#c0c0c0"/>
<rect x="1240" y="658" width="1" height="34" fill="#c0c0c0"/>
<rect x="1248" y="669" width="1" height="23" fill="#c0c0c0"/>
<rect x="1256" y="670" width="1" height="22" fill="#c0c0c0"/>
<rect x="1264" y="677" width="1" height="15" fill="#c0c0c0"/>
<rect x="1272" y="684" width="1" height="8" fill="#c0c0c0"/>
<rect x="1280" y="692" width="1" height="1" fill="#c0c0c0"/>
<rect x="1288" y="692" width="1" height="6" fill="#c0c0c0"/>
<rect x="1296" y="692" width="1" height="9" fill="#c0c0c0"/>
<rect x="1304" y="692" width="1" height="7" fill="#c0c0c0"/>
<rect x="1312" y="692" width="1" height="11" fill="#c0c0c0"/>
<rect x="1320" y="692" width="1" height="13" fill="#c0c0c0"/>
<rect x="1328" y="692" width="1" height="13" fill="#c0c0c0"/>
<rect x="1336" y="692" width="1" height="12" fill="#c0c0c0"/>
<rect x="1344" y="692" width="1" height="9" fill="#c0c0c0"/>
<rect x="1352" y="692" width="1" height="11" fill="#c0c0c0"/>
<rect x="1360" y="692" width="1" height="12" fill="#c0c0c0"/>
<rect x="1368" y="692" width="1" height="15" fill="#c0c0c0"/>
<rect x="1376" y="692" width="1" height="24" fill="#c0c0c0"/>
<rect x="1384" y="692" width="1" height="31" fill="#c0c0c0"/>
<rect x="1392" y="692" width="1" height="32" fill="#c0c0c0"/>
<rect x="1400" y="692" width="1" height="32" fill="#c0c0c0"/>
<rect x="1408" y="692" width="1" height="30" fill="#c0c0c0"/>
<rect x="1416" y="692" width="1" height="29" fill="#c0c0c0"/>
</g>
<polyline points="0.0,638.2 9.0,639.7 18.1,641.5 27.1,645.1 36.2,649.6 47.0,655.1 59.7,663.2 72.3,669.9 83.2,675.9 95.9,683.1 106.7,688.5 115.8,690.7 126.6,693.6 137.5,696.7 144.7,698.5 162.8,698.5 171.8,696.7 180.9,694.5 191.7,693.4 202.6,690.3 217.0,687.1 231.5,684.4 240.5,682.2 253.2,681.3 267.7,680.9 280.3,680.4 293.0,682.2 304.0,686.7 311.2,688.0 322.1,693.4 329.3,694.8 336.6,698.8 347.4,702.6 358.3,704.8 365.5,706.6 376.3,708.4 383.6,710.6 390.8,711.5 401.7,714.7 412.5,719.3 425.2,725.6 437.8,731.6 448.7,734.6 455.9,735.2 466.8,733.7 474.0,732.3 484.9,726.5 495.7,719.3 508.4,711.5 521.0,703.9 533.7,697.6 544.5,692.5 551.8,688.5 562.6,684.9 571.7,681.6 582.5,680.4 593.4,680.4 606.1,678.1 617.0,676.4 629.7,673.5 640.6,668.1 653.2,660.5 660.5,656.0 665.9,651.4 671.3,647.3 678.5,642.8 689.4,636.1 696.6,632.5 703.9,629.7 712.9,628.5 725.6,627.6 738.2,627.4 754.5,627.9 767.2,630.3 778.0,632.1 787.1,633.4 792.5,635.5 797.9,637.5 808.8,641.5 816.0,644.2 823.2,646.9 832.3,650.0 839.5,653.6 846.7,656.9 857.6,660.5 864.8,663.6 875.7,666.5 882.9,668.3 890.1,670.4 901.0,673.5 910.1,675.0 919.2,676.8 928.3,675.3 937.3,674.4 946.4,671.7 951.8,670.4 959.0,666.8 968.1,662.3 977.1,657.8 984.3,653.8 991.6,649.6 1002.4,644.2 1013.3,638.8 1024.1,632.5 1031.4,627.9 1038.6,622.5 1049.5,615.3 1056.7,611.7 1065.7,606.2 1074.8,602.2 1080.2,601.3 1089.2,601.3 1096.5,603.2 1103.7,606.6 1111.0,610.2 1120.0,616.2 1129.0,621.6 1138.1,627.9 1147.1,632.5 1156.2,635.2 1165.2,635.5 1172.4,633.7 1181.5,632.5 1186.9,630.6 1194.1,629.2 1200.0,627.4 1210.9,624.3 1218.1,623.4 1227.1,623.4 1236.2,626.1 1245.2,631.5 1254.3,638.8 1263.3,646.9 1272.3,654.2 1279.6,661.4 1286.8,668.6 1295.9,676.8 1304.9,684.0 1315.8,690.3 1326.6,695.8 1337.5,698.5 1348.3,700.8 1359.2,702.6 1373.6,704.4 1384.5,707.5 1395.3,709.9 1406.2,712.9 1415.0,714.7" fill="none" stroke="#ff0000" stroke-width="1" stroke-dasharray="3 3"/>
<text x="1683" y="591" font-family="Liberation Sans, Arial, sans-serif" font-size="10.1" style="text-rendering:geometricPrecision" stroke="#000" stroke-width="0.15" lengthAdjust="spacingAndGlyphs" fill="#000" textLength="21.0">905.5</text>
<text x="1683" y="695" font-family="Liberation Sans, Arial, sans-serif" font-size="10.1" style="text-rendering:geometricPrecision" stroke="#000" stroke-width="0.15" lengthAdjust="spacingAndGlyphs" fill="#000" textLength="16.3">0.00</text>
<text x="1683" y="747" font-family="Liberation Sans, Arial, sans-serif" font-size="10.1" style="text-rendering:geometricPrecision" stroke="#000" stroke-width="0.15" lengthAdjust="spacingAndGlyphs" fill="#000" textLength="28.4">-488.99</text>
<rect x="1680" y="691" width="2" height="1" fill="#000"/>
<g stroke="#c0c0c0" stroke-width="1" stroke-dasharray="3 3" shape-rendering="crispEdges">
<line x1="0" y1="788.5" x2="1679" y2="788.5"/>
<line x1="0" y1="839.5" x2="1679" y2="839.5"/>
<line x1="0" y1="900.5" x2="1679" y2="900.5"/>
</g>
<polyline points="0.5,842.1 8.5,837.0 16.5,840.6 24.5,829.4 32.5,839.7 40.5,836.1 48.5,847.3 56.5,848.4 64.5,845.5 72.5,843.3 80.5,847.3 88.5,849.3 96.5,852.4 104.5,839.7 112.5,836.1 120.5,841.9 128.5,851.5 136.5,850.6 144.5,839.7 152.5,831.2 160.5,834.3 168.5,835.6 176.5,830.7 184.5,829.4 192.5,835.2 200.5,847.3 208.5,837.0 216.5,827.1 224.5,829.4 232.5,829.4 240.5,838.8 248.5,832.5 256.5,840.6 264.5,840.3 272.5,840.3 280.5,844.2 288.5,851.1 296.5,855.1 304.5,856.4 312.5,857.8 320.5,863.2 328.5,853.6 336.5,850.2 344.5,842.1 352.5,843.3 360.5,855.5 368.5,850.6 376.5,865.4 384.5,870.5 392.5,868.3 400.5,876.4 408.5,878.6 416.5,867.2 424.5,870.5 432.5,863.2 440.5,851.1 448.5,845.5 456.5,838.5 464.5,840.6 472.5,842.1 480.5,824.3 488.5,824.3 496.5,827.6 504.5,844.2 512.5,836.1 520.5,831.2 528.5,832.5 536.5,828.5 544.5,824.0 552.5,821.3 560.5,829.4 568.5,834.3 576.5,837.5 584.5,848.4 592.5,841.5 600.5,823.4 608.5,826.2 616.5,809.5 624.5,812.6 632.5,807.5 640.5,802.3 648.5,805.9 656.5,807.2 664.5,808.4 672.5,805.4 680.5,804.5 688.5,802.3 696.5,811.3 704.5,808.4 712.5,808.4 720.5,805.4 728.5,805.4 736.5,801.2 744.5,799.4 752.5,822.2 760.5,818.4 768.5,821.3 776.5,816.6 784.5,812.2 792.5,830.7 800.5,835.2 808.5,828.3 816.5,832.5 824.5,831.2 832.5,834.3 840.5,839.4 848.5,829.4 856.5,824.3 864.5,832.1 872.5,838.3 880.5,845.5 888.5,838.5 896.5,835.2 904.5,837.4 912.5,828.3 920.5,812.6 928.5,812.6 936.5,808.4 944.5,806.3 952.5,805.4 960.5,809.3 968.5,803.5 976.5,799.9 984.5,795.4 992.5,796.3 1000.5,792.3 1008.5,790.9 1016.5,787.3 1024.5,779.5 1032.5,776.4 1040.5,776.4 1048.5,798.1 1056.5,790.5 1064.5,811.3 1072.5,816.2 1080.5,835.6 1088.5,840.3 1096.5,830.7 1104.5,823.4 1112.5,823.4 1120.5,827.1 1128.5,823.4 1136.5,826.2 1144.5,821.6 1152.5,812.2 1160.5,810.2 1168.5,802.6 1176.5,799.4 1184.5,814.4 1192.5,813.5 1200.5,825.3 1208.5,816.6 1216.5,837.0 1224.5,831.6 1232.5,848.2 1240.5,843.3 1248.5,847.3 1256.5,836.5 1264.5,844.2 1272.5,847.9 1280.5,853.3 1288.5,847.3 1296.5,847.3 1304.5,839.4 1312.5,848.4 1320.5,845.5 1328.5,843.7 1336.5,842.4 1344.5,836.1 1352.5,843.3 1360.5,845.5 1368.5,851.1 1376.5,860.2 1384.5,861.4 1392.5,852.4 1400.5,850.6 1408.5,846.4 1416.5,849.7" fill="none" stroke="#1e90ff" stroke-width="1" stroke-linejoin="round"/>
<text x="1683" y="763" font-family="Liberation Sans, Arial, sans-serif" font-size="10.1" style="text-rendering:geometricPrecision" stroke="#000" stroke-width="0.15" lengthAdjust="spacingAndGlyphs" fill="#000" textLength="14.0">100</text>
<text x="1683" y="792" font-family="Liberation Sans, Arial, sans-serif" font-size="10.1" style="text-rendering:geometricPrecision" stroke="#000" stroke-width="0.15" lengthAdjust="spacingAndGlyphs" fill="#000" textLength="9.3">80</text>
<text x="1683" y="843" font-family="Liberation Sans, Arial, sans-serif" font-size="10.1" style="text-rendering:geometricPrecision" stroke="#000" stroke-width="0.15" lengthAdjust="spacingAndGlyphs" fill="#000" textLength="9.3">50</text>
<text x="1683" y="904" font-family="Liberation Sans, Arial, sans-serif" font-size="10.1" style="text-rendering:geometricPrecision" stroke="#000" stroke-width="0.15" lengthAdjust="spacingAndGlyphs" fill="#000" textLength="9.3">15</text>
<text x="1683" y="923" font-family="Liberation Sans, Arial, sans-serif" font-size="10.1" style="text-rendering:geometricPrecision" stroke="#000" stroke-width="0.15" lengthAdjust="spacingAndGlyphs" fill="#000" textLength="4.7">0</text>
<text x="7.4" y="37.2" font-family="Liberation Sans, Arial, sans-serif" font-size="10.1" style="text-rendering:geometricPrecision" stroke="#000" stroke-width="0.15" lengthAdjust="spacingAndGlyphs" fill="#000" textLength="197.5">HK50-,Daily&#160;&#160;28721.0 28761.0 28273.0 28312.0</text>
<polygon points="-2.6,36.4 0,33.4 2.6,36.4" fill="#000"/>
<text x="-3.5" y="593.2" font-family="Liberation Sans, Arial, sans-serif" font-size="10.1" style="text-rendering:geometricPrecision" stroke="#000" stroke-width="0.15" lengthAdjust="spacingAndGlyphs" fill="#000" textLength="133.5">MACD(12,26,9) -256.05 -205.93</text>
<text x="-3" y="764.8" font-family="Liberation Sans, Arial, sans-serif" font-size="10.1" style="text-rendering:geometricPrecision" stroke="#000" stroke-width="0.15" lengthAdjust="spacingAndGlyphs" fill="#000" textLength="67">RSI(14) 44.1974</text>
<g shape-rendering="crispEdges">
<rect x="-8" y="927" width="1" height="2" fill="#000"/>
<rect x="56" y="927" width="1" height="2" fill="#000"/>
<rect x="120" y="927" width="1" height="2" fill="#000"/>
<rect x="184" y="927" width="1" height="2" fill="#000"/>
<rect x="248" y="927" width="1" height="2" fill="#000"/>
<rect x="312" y="927" width="1" height="2" fill="#000"/>
<rect x="376" y="927" width="1" height="2" fill="#000"/>
<rect x="440" y="927" width="1" height="2" fill="#000"/>
<rect x="504" y="927" width="1" height="2" fill="#000"/>
<rect x="568" y="927" width="1" height="2" fill="#000"/>
<rect x="632" y="927" width="1" height="2" fill="#000"/>
<rect x="696" y="927" width="1" height="2" fill="#000"/>
<rect x="760" y="927" width="1" height="2" fill="#000"/>
<rect x="824" y="927" width="1" height="2" fill="#000"/>
<rect x="888" y="927" width="1" height="2" fill="#000"/>
<rect x="952" y="927" width="1" height="2" fill="#000"/>
<rect x="1016" y="927" width="1" height="2" fill="#000"/>
<rect x="1080" y="927" width="1" height="2" fill="#000"/>
<rect x="1144" y="927" width="1" height="2" fill="#000"/>
<rect x="1208" y="927" width="1" height="2" fill="#000"/>
<rect x="1272" y="927" width="1" height="2" fill="#000"/>
<rect x="1336" y="927" width="1" height="2" fill="#000"/>
<rect x="1400" y="927" width="1" height="2" fill="#000"/>
</g>
<text x="-8.5" y="938.6" font-family="Liberation Sans, Arial, sans-serif" font-size="10.1" style="text-rendering:geometricPrecision" stroke="#000" stroke-width="0.15" lengthAdjust="spacingAndGlyphs" fill="#000" textLength="43.1">15 Jul 2020</text>
<text x="55.5" y="938.6" font-family="Liberation Sans, Arial, sans-serif" font-size="10.1" style="text-rendering:geometricPrecision" stroke="#000" stroke-width="0.15" lengthAdjust="spacingAndGlyphs" fill="#000" textLength="45.7">27 Jul 2020</text>
<text x="119.5" y="938.6" font-family="Liberation Sans, Arial, sans-serif" font-size="10.1" style="text-rendering:geometricPrecision" stroke="#000" stroke-width="0.15" lengthAdjust="spacingAndGlyphs" fill="#000" textLength="47.3">6 Aug 2020</text>
<text x="183.5" y="938.6" font-family="Liberation Sans, Arial, sans-serif" font-size="10.1" style="text-rendering:geometricPrecision" stroke="#000" stroke-width="0.15" lengthAdjust="spacingAndGlyphs" fill="#000" textLength="52.3">18 Aug 2020</text>
<text x="247.5" y="938.6" font-family="Liberation Sans, Arial, sans-serif" font-size="10.1" style="text-rendering:geometricPrecision" stroke="#000" stroke-width="0.15" lengthAdjust="spacingAndGlyphs" fill="#000" textLength="52.7">28 Aug 2020</text>
<text x="311.5" y="938.6" font-family="Liberation Sans, Arial, sans-serif" font-size="10.1" style="text-rendering:geometricPrecision" stroke="#000" stroke-width="0.15" lengthAdjust="spacingAndGlyphs" fill="#000" textLength="46.7">9 Sep 2020</text>
<text x="375.5" y="938.6" font-family="Liberation Sans, Arial, sans-serif" font-size="10.1" style="text-rendering:geometricPrecision" stroke="#000" stroke-width="0.15" lengthAdjust="spacingAndGlyphs" fill="#000" textLength="51.7">21 Sep 2020</text>
<text x="439.5" y="938.6" font-family="Liberation Sans, Arial, sans-serif" font-size="10.1" style="text-rendering:geometricPrecision" stroke="#000" stroke-width="0.15" lengthAdjust="spacingAndGlyphs" fill="#000" textLength="45.0">5 Oct 2020</text>
<text x="503.5" y="938.6" font-family="Liberation Sans, Arial, sans-serif" font-size="10.1" style="text-rendering:geometricPrecision" stroke="#000" stroke-width="0.15" lengthAdjust="spacingAndGlyphs" fill="#000" textLength="50.0">15 Oct 2020</text>
<text x="567.5" y="938.6" font-family="Liberation Sans, Arial, sans-serif" font-size="10.1" style="text-rendering:geometricPrecision" stroke="#000" stroke-width="0.15" lengthAdjust="spacingAndGlyphs" fill="#000" textLength="45.4">28 Oct 2020</text>
<text x="631.5" y="938.6" font-family="Liberation Sans, Arial, sans-serif" font-size="10.1" style="text-rendering:geometricPrecision" stroke="#000" stroke-width="0.15" lengthAdjust="spacingAndGlyphs" fill="#000" textLength="48.3">9 Nov 2020</text>
<text x="695.5" y="938.6" font-family="Liberation Sans, Arial, sans-serif" font-size="10.1" style="text-rendering:geometricPrecision" stroke="#000" stroke-width="0.15" lengthAdjust="spacingAndGlyphs" fill="#000" textLength="53.3">19 Nov 2020</text>
<text x="759.5" y="938.6" font-family="Liberation Sans, Arial, sans-serif" font-size="10.1" style="text-rendering:geometricPrecision" stroke="#000" stroke-width="0.15" lengthAdjust="spacingAndGlyphs" fill="#000" textLength="45.7">1 Dec 2020</text>
<text x="823.5" y="938.6" font-family="Liberation Sans, Arial, sans-serif" font-size="10.1" style="text-rendering:geometricPrecision" stroke="#000" stroke-width="0.15" lengthAdjust="spacingAndGlyphs" fill="#000" textLength="51.0">11 Dec 2020</text>
<text x="887.5" y="938.6" font-family="Liberation Sans, Arial, sans-serif" font-size="10.1" style="text-rendering:geometricPrecision" stroke="#000" stroke-width="0.15" lengthAdjust="spacingAndGlyphs" fill="#000" textLength="51.3">23 Dec 2020</text>
<text x="951.5" y="938.6" font-family="Liberation Sans, Arial, sans-serif" font-size="10.1" style="text-rendering:geometricPrecision" stroke="#000" stroke-width="0.15" lengthAdjust="spacingAndGlyphs" fill="#000" textLength="44.0">6 Jan 2021</text>
<text x="1015.5" y="938.6" font-family="Liberation Sans, Arial, sans-serif" font-size="10.1" style="text-rendering:geometricPrecision" stroke="#000" stroke-width="0.15" lengthAdjust="spacingAndGlyphs" fill="#000" textLength="48.7">18 Jan 2021</text>
<text x="1079.5" y="938.6" font-family="Liberation Sans, Arial, sans-serif" font-size="10.1" style="text-rendering:geometricPrecision" stroke="#000" stroke-width="0.15" lengthAdjust="spacingAndGlyphs" fill="#000" textLength="48.3">28 Jan 2021</text>
<text x="1143.5" y="938.6" font-family="Liberation Sans, Arial, sans-serif" font-size="10.1" style="text-rendering:geometricPrecision" stroke="#000" stroke-width="0.15" lengthAdjust="spacingAndGlyphs" fill="#000" textLength="42.2">9 Feb 2021</text>
<text x="1207.5" y="938.6" font-family="Liberation Sans, Arial, sans-serif" font-size="10.1" style="text-rendering:geometricPrecision" stroke="#000" stroke-width="0.15" lengthAdjust="spacingAndGlyphs" fill="#000" textLength="51.0">23 Feb 2021</text>
<text x="1271.5" y="938.6" font-family="Liberation Sans, Arial, sans-serif" font-size="10.1" style="text-rendering:geometricPrecision" stroke="#000" stroke-width="0.15" lengthAdjust="spacingAndGlyphs" fill="#000" textLength="46.3">5 Mar 2021</text>
<text x="1335.5" y="938.6" font-family="Liberation Sans, Arial, sans-serif" font-size="10.1" style="text-rendering:geometricPrecision" stroke="#000" stroke-width="0.15" lengthAdjust="spacingAndGlyphs" fill="#000" textLength="51.0">17 Mar 2021</text>
<text x="1399.5" y="938.6" font-family="Liberation Sans, Arial, sans-serif" font-size="10.1" style="text-rendering:geometricPrecision" stroke="#000" stroke-width="0.15" lengthAdjust="spacingAndGlyphs" fill="#000" textLength="50.7">29 Mar 2021</text>
</svg>
<div id="tb"></div><div id="tbl1"></div><div id="tbl2"></div>
<div class="act" style="left:315px;width:25px"></div>
<div class="act" style="left:466.5px;width:27px"></div>
<div class="act" style="left:495px;width:27px"></div>
<div class="act" style="left:655px;width:24.5px"></div>
<div class="act" style="left:1129px;width:24px"></div>
<div class="sep" style="left:40px"></div>
<div class="sep" style="left:276px"></div>
<div class="sep" style="left:314px"></div>
<div class="sep" style="left:371px"></div>
<div class="sep" style="left:461px"></div>
<div class="sep" style="left:466px"></div>
<div class="sep" style="left:494px"></div>
<div class="sep" style="left:523px"></div>
<div class="sep" style="left:644px"></div>
<div class="sep" style="left:654px"></div>
<div class="sep" style="left:711px"></div>
<div class="sep" style="left:950px"></div>
<div class="sep" style="left:1128px"></div>
<div class="sep" style="left:1211px"></div>
<div style="position:absolute;left:280px;top:2px;width:3px;height:16px;background:repeating-linear-gradient(#b0b0b0 0 1px,#f0f0f0 1px 2px)"></div>
<div style="position:absolute;left:648px;top:2px;width:3px;height:16px;background:repeating-linear-gradient(#b0b0b0 0 1px,#f0f0f0 1px 2px)"></div>
<div style="position:absolute;left:954px;top:2px;width:3px;height:16px;background:repeating-linear-gradient(#b0b0b0 0 1px,#f0f0f0 1px 2px)"></div>
<div class="tbt" style="left:68.5px">新订单</div>
<div class="tbt" style="left:220.5px">自动交易</div>
<div class="tf" style="left:965.5px">M1</div>
<div class="tf" style="left:993.5px">M5</div>
<div class="tf" style="left:1019.5px">M15</div>
<div class="tf" style="left:1047.5px">M30</div>
<div class="tf" style="left:1079px">H1</div>
<div class="tf" style="left:1105.5px">H4</div>
<div class="tf" style="left:1134.3px">D1</div>
<div class="tf" style="left:1161.5px">W1</div>
<div class="tf" style="left:1188.5px">MN</div>
<svg style="position:absolute;left:0;top:0" width="1726" height="24" viewBox="0 0 1726 24">
<rect x="0" y="3" width="2.5" height="8" fill="#e02020"/><rect x="0" y="11" width="3" height="4" fill="#3060d0"/>
<rect x="15.5" y="2.5" width="11" height="11" fill="#f4efe2" stroke="#a9a08a" stroke-width="1"/><path d="M18 5v6M21 4v7M24 5v5" stroke="#8a8a8a" stroke-width="1" fill="none"/><circle cx="22.5" cy="9.5" r="4.6" fill="#cfe4fb" fill-opacity="0.85" stroke="#7ea6d8" stroke-width="1.4"/><line x1="26.5" y1="13.5" x2="32" y2="18" stroke="#d9a520" stroke-width="2.4" stroke-linecap="round"/>
<path d="M50.5 2.5h7l3 3v9.5h-10z" fill="#fff" stroke="#808080" stroke-width="1"/><path d="M52.5 6.5h5M52.5 9h4M52.5 11.5h3" stroke="#909090" stroke-width="1"/><path d="M60.3 7v11.8M54.4 12.9h11.8" stroke="#128a12" stroke-width="3.6"/><path d="M60.3 7.9v10M55.3 12.9h10" stroke="#3fe23f" stroke-width="1.9"/>
<path d="M117.6 11.2 L119 13 L127 17.6 L133 10.6 L132.6 9.2 L127 15.6 Z" fill="#a8741a"/><path d="M117.6 10.6 L122.9 2.4 L132.8 9.2 L127.1 15.8 Z" fill="#eebf3a" stroke="#c48d17" stroke-width="0.8"/><path d="M118.6 10.4 L123 3.6 L127.5 6.7 L122.5 13z" fill="#f8e184" fill-opacity="0.8"/>
<path d="M147.3 1.5h9.6v10.5h-9.6z" fill="#3d8ee4" stroke="#2668c0" stroke-width="1"/><path d="M150.2 1.8v9.5" stroke="#9fd0ff" stroke-width="1.6"/><path d="M152.2 4.6h3.6M152.2 6.6h3.6" stroke="#d8ecff" stroke-width="1.1"/><path d="M147.6 16.6a2.8 2.8 0 0 1-.2-5.6a3.8 3.8 0 0 1 7-1.2a3.2 3.2 0 0 1 4.6 2.8a2 2 0 0 1-.3 4z" fill="#eef2f8" stroke="#7f9bc2" stroke-width="1"/>
<path d="M176.2 14.4a7.4 7.4 0 0 1 0-10.6" fill="none" stroke="#8fb0e4" stroke-width="1.5"/><path d="M178.3 12.4a4.6 4.6 0 0 1 0-6.8" fill="none" stroke="#5f8fd8" stroke-width="1.5"/><path d="M186.4 3.8a7.4 7.4 0 0 1 1.6 7" fill="none" stroke="#8fb0e4" stroke-width="1.5"/><path d="M184.3 5.6a4.6 4.6 0 0 1 1 5" fill="none" stroke="#7fa8dc" stroke-width="1.4"/><path d="M178 3a6 6 0 0 1 6.6 0" fill="none" stroke="#a8c2ea" stroke-width="1.3"/><circle cx="181.2" cy="8.8" r="1.8" fill="#2a5fc8"/><path d="M181.4 9.5v7.2" stroke="#36a743" stroke-width="1.5"/><path d="M181.6 16.6a7.6 7.6 0 0 0 6.6-6" fill="none" stroke="#4db356" stroke-width="2.2"/>
<path d="M202 7.5Q203.5 13 208.5 16.8Q212.5 13.5 215 7.5z" fill="#f7dc55" stroke="#d4a61c" stroke-width="0.8"/><path d="M200 6.6c1.5-1.6 3.4-1.8 4-3.4c1-2.6 7-2.6 8 0c.6 1.600 2.500 1.800 4 3.400c-3 3-13 3-16 0z" fill="#5aa4e0" stroke="#3278bc" stroke-width="0.8"/><circle cx="212.6" cy="12.9" r="4.2" fill="#d92a1a" stroke="#f6d0c8" stroke-width="0.6"/><rect x="211" y="11.3" width="3.2" height="3.2" fill="#fff"/>
<path d="M294.3 3v14M291.7 14.5h13.5" stroke="#505050" stroke-width="1.2" fill="none"/><path d="M294.3 2l-1.8 2.5h3.6zM305.7 14.5l-2.5-1.8v3.6z" fill="#505050"/>
<path d="M301 4.5v8M301 5.5h2.2M298.8 11.5h2.2" stroke="#1f9d2a" stroke-width="1.3" fill="none"/>
<path d="M322.8 3v14M320.2 14.5h13.5" stroke="#505050" stroke-width="1.2" fill="none"/><path d="M322.8 2l-1.8 2.5h3.6zM334.2 14.5l-2.5-1.8v3.6z" fill="#505050"/>
<path d="M329.3 1.5v12" stroke="#1f7d25" stroke-width="1.2"/><rect x="327.3" y="3.5" width="4" height="7" fill="#2fc23a" stroke="#1f7d25" stroke-width="0.8"/>
<path d="M350.8 3v14M348.2 14.5h13.5" stroke="#505050" stroke-width="1.2" fill="none"/><path d="M350.8 2l-1.8 2.5h3.6zM362.2 14.5l-2.5-1.8v3.6z" fill="#505050"/>
<path d="M351 12c2-6 5-8 7-7s3 3 4 5" stroke="#1f9d2a" stroke-width="1.3" fill="none"/>
<line x1="390.8" y1="11.5" x2="395.8" y2="16.5" stroke="#d8a61c" stroke-width="2.6" stroke-linecap="round"/>
<circle cx="386.8" cy="7.3" r="5.4" fill="#d9ecfd" stroke="#2e7bd1" stroke-width="1.5"/>
<path d="M384 7.3h5.6" stroke="#2e7bd1" stroke-width="1.6"/>
<path d="M386.8 4.5v5.6" stroke="#2e7bd1" stroke-width="1.6"/>
<line x1="418.8" y1="11.5" x2="423.8" y2="16.5" stroke="#d8a61c" stroke-width="2.6" stroke-linecap="round"/>
<circle cx="414.8" cy="7.3" r="5.4" fill="#d9ecfd" stroke="#2e7bd1" stroke-width="1.5"/>
<path d="M412 7.3h5.6" stroke="#2e7bd1" stroke-width="1.6"/>
<rect x="436" y="1" width="7.8" height="7.6" fill="#5aa52e"/><rect x="437.4" y="4" width="5" height="2.6" fill="#e8f0ff" fill-opacity="0.85"/>
<rect x="444.5" y="1" width="7.8" height="7.6" fill="#2f62d0"/><rect x="445.9" y="4" width="5" height="2.6" fill="#e8f0ff" fill-opacity="0.85"/>
<rect x="436" y="9" width="7.8" height="7.6" fill="#2f62d0"/><rect x="437.4" y="12" width="5" height="2.6" fill="#e8f0ff" fill-opacity="0.85"/>
<rect x="444.5" y="9" width="7.8" height="7.6" fill="#5aa52e"/><rect x="445.9" y="12" width="5" height="2.6" fill="#e8f0ff" fill-opacity="0.85"/>
<path d="M473.9 3v14M471.3 14.5h13.5" stroke="#505050" stroke-width="1.2" fill="none"/><path d="M473.9 2l-1.8 2.5h3.6zM485.3 14.5l-2.5-1.8v3.6z" fill="#505050"/>
<path d="M478.5 5.5l4.5 3l-4.5 3z" fill="none" stroke="#1f9d2a" stroke-width="1.2"/>
<path d="M502.8 3v14M500.2 14.5h13.5" stroke="#505050" stroke-width="1.2" fill="none"/><path d="M502.8 2l-1.8 2.5h3.6zM514.2 14.5l-2.5-1.8v3.6z" fill="#505050"/>
<path d="M508.3 3v10" stroke="#2a5fb0" stroke-width="1.2"/><path d="M514.5 8h-5M511.5 6l-2.2 2l2.2 2" stroke="#c23a1a" stroke-width="1.1" fill="none"/>
<path d="M533 2.5h7l2.5 2.5v9.5h-9.5z" fill="#fff" stroke="#808080" stroke-width="1"/>
<text x="535" y="11.5" font-family="Liberation Serif, serif" font-style="italic" font-size="9" fill="#404040">f</text>
<path d="M543.3 7v11.8M537.4 12.9h11.8" stroke="#128a12" stroke-width="3.6"/><path d="M543.3 7.9v10M538.3 12.9h10" stroke="#3fe23f" stroke-width="1.9"/>
<path d="M554.7 8l2.8 3.2l2.8-3.2z" fill="#000"/>
<circle cx="579" cy="9" r="7.4" fill="#fff" stroke="#2368c9" stroke-width="2.6"/><circle cx="579" cy="9" r="4.6" fill="#f4f8ff"/><path d="M579 5.2v4h3.2" stroke="#404040" stroke-width="1.1" fill="none"/>
<path d="M593.8 8l2.8 3.2l2.8-3.2z" fill="#000"/>
<rect x="610.5" y="2.5" width="15" height="13.5" fill="#fff" stroke="#4a7fd0" stroke-width="1.2"/><rect x="610.5" y="2.5" width="15" height="2.6" fill="#4a7fd0"/><path d="M612.5 9l2.5-1.2l2.5 0.8l2.5-1.6l3-0.6" stroke="#b03020" stroke-width="1.2" fill="none" stroke-dasharray="2.2 0.8"/><path d="M612.5 14l2.5-1.8l2 1.2l2.5-2l2 1.4l2-1" stroke="#2a9a30" stroke-width="1.2" fill="none"/>
<path d="M632.4 8l2.8 3.2l2.8-3.2z" fill="#000"/>
<path d="M662 2v12.2l3-2.6l2.2 4.6l1.9-0.9l-2.2-4.5l3.8-0.3z" fill="#404040"/>
<path d="M694.3 2v14.5M687 9.2h14.8" stroke="#404040" stroke-width="1.1"/><rect x="693.3" y="8.2" width="2" height="2" fill="#f0f0f0"/>
<path d="M728.6 3.5v12.5" stroke="#404040" stroke-width="1.1"/>
<path d="M750.8 9.2h12.4" stroke="#404040" stroke-width="1.1"/>
<path d="M779 16.2l12.3-12.2" stroke="#404040" stroke-width="1.1"/>
<path d="M805 13l12-9.5M806.5 16.5l12-9.5M809 8.5v6M812.5 6v6M816 3.5v6" stroke="#404040" stroke-width="1" fill="none"/>
<text x="816.2" y="18" font-family="Liberation Sans, sans-serif" font-weight="bold" font-size="6.5" fill="#404040">E</text>
<path d="M834 3h13M834 6h13M834 9.5h13M834 13.5h9" stroke="#404040" stroke-width="1" stroke-dasharray="1 1"/>
<text x="843.8" y="18" font-family="Liberation Sans, sans-serif" font-weight="bold" font-size="6.5" fill="#404040">F</text>
<text x="863.8" y="14" font-family="Liberation Sans, sans-serif" font-size="13" fill="#505050">A</text>
<rect x="890.8" y="2.5" width="11.5" height="13" fill="none" stroke="#404040" stroke-width="1" stroke-dasharray="1 1"/>
<text x="892.3" y="14" font-family="Liberation Sans, sans-serif" font-size="12" fill="#505050">T</text>
<path d="M922 3l3.2 3.2l-3.2 3.2l-3.2-3.2z" fill="#404040"/><path d="M928.6 9.6l3.2 3.2l-3.2 3.2l-3.2-3.2z" fill="#404040"/><path d="M919.5 11l2.5 2.5l4-5" stroke="#404040" stroke-width="1.3" fill="none"/>
<path d="M938.6 8l2.8 3.2l2.8-3.2z" fill="#000"/>
<line x1="1679" y1="9.2" x2="1674" y2="13.8" stroke="#2a5fd0" stroke-width="2.2" stroke-linecap="round"/><circle cx="1681.6" cy="6.6" r="3.7" fill="#f4f8ff" stroke="#2a5fd0" stroke-width="1.3"/>
<path d="M1698.5 12a5.5 4.6 0 1 1 5 4.4l-2.6 1.8l0.3-2.2a5 4.4 0 0 1-2.7-4z" fill="#f4f4f4" stroke="#b8b8b8" stroke-width="0.9"/>
<circle cx="1712.7" cy="6.6" r="8" fill="#dc3a22"/>
<text x="1709.3" y="11" font-family="Liberation Sans, sans-serif" font-size="12.5" fill="#fff">1</text>
</svg>
<div id="trade">
<div style="position:absolute;left:0;top:0;width:47px;height:25px;background:linear-gradient(#f95252,#dc3232)"></div>
<div style="position:absolute;left:0;top:24px;width:43px;height:1px;background:#ee6a6a"></div>
<div class="btn" style="left:0;top:5px;width:40px;font-size:11.3px;line-height:14px;letter-spacing:-0.3px">SELL</div>
<div style="position:absolute;left:162px;top:0;width:52px;height:25px;background:linear-gradient(#f95252,#dc3232)"></div>
<div style="position:absolute;left:166px;top:24px;width:44px;height:1px;background:#ee6a6a"></div>
<div class="btn" style="left:162.5px;top:5px;width:49px;font-size:11.3px;line-height:14px;letter-spacing:-0.3px">BUY</div>
<div style="position:absolute;left:0;top:24.5px;width:104px;height:39.5px;background:linear-gradient(#dc3030,#b20000)"></div>
<div style="position:absolute;left:106.2px;top:24.5px;width:107.8px;height:39.5px;background:linear-gradient(#dc3030,#b20000)"></div>
<div class="btn" style="left:11.3px;top:43.8px;font-size:11.6px;font-weight:bold;line-height:14px;letter-spacing:0.1px">28310</div>
<div class="btn" style="left:49.3px;top:23.6px;font-size:32px;line-height:38px;letter-spacing:1px;transform:scaleX(0.84);transform-origin:0 0">.5</div>
<div class="btn" style="left:121.2px;top:43.8px;font-size:11.6px;font-weight:bold;line-height:14px;letter-spacing:0.1px">28325</div>
<div class="btn" style="left:160.2px;top:23.6px;font-size:32px;line-height:38px;letter-spacing:1px;transform:scaleX(0.84);transform-origin:0 0">.5</div>
<div style="position:absolute;left:49px;top:0;width:111px;height:21.5px;background:#fff;border:1px solid #b4b4b4;box-sizing:border-box"></div>
<div style="position:absolute;left:50px;top:1px;width:21px;height:19.5px;background:linear-gradient(#f4f4f4,#d0d0d0);border-right:1px solid #b4b4b4;box-sizing:border-box"></div>
<div style="position:absolute;left:138.5px;top:1px;width:20.5px;height:19.5px;background:linear-gradient(#f4f4f4,#d0d0d0);border-left:1px solid #b4b4b4;box-sizing:border-box"></div>
<div style="position:absolute;left:72px;top:4px;width:63px;text-align:right;font-size:11.3px;line-height:14px;color:#000">1.00</div>
<svg style="position:absolute;left:49px;top:0" width="111" height="22" viewBox="0 0 111 22"><path d="M8 8.5h4.6l-2.3 3z" fill="#4a5fc0"/><path d="M97.3 11.5h4.6l-2.3-3z" fill="#4a5fc0"/></svg>
</div>
</body></html>
